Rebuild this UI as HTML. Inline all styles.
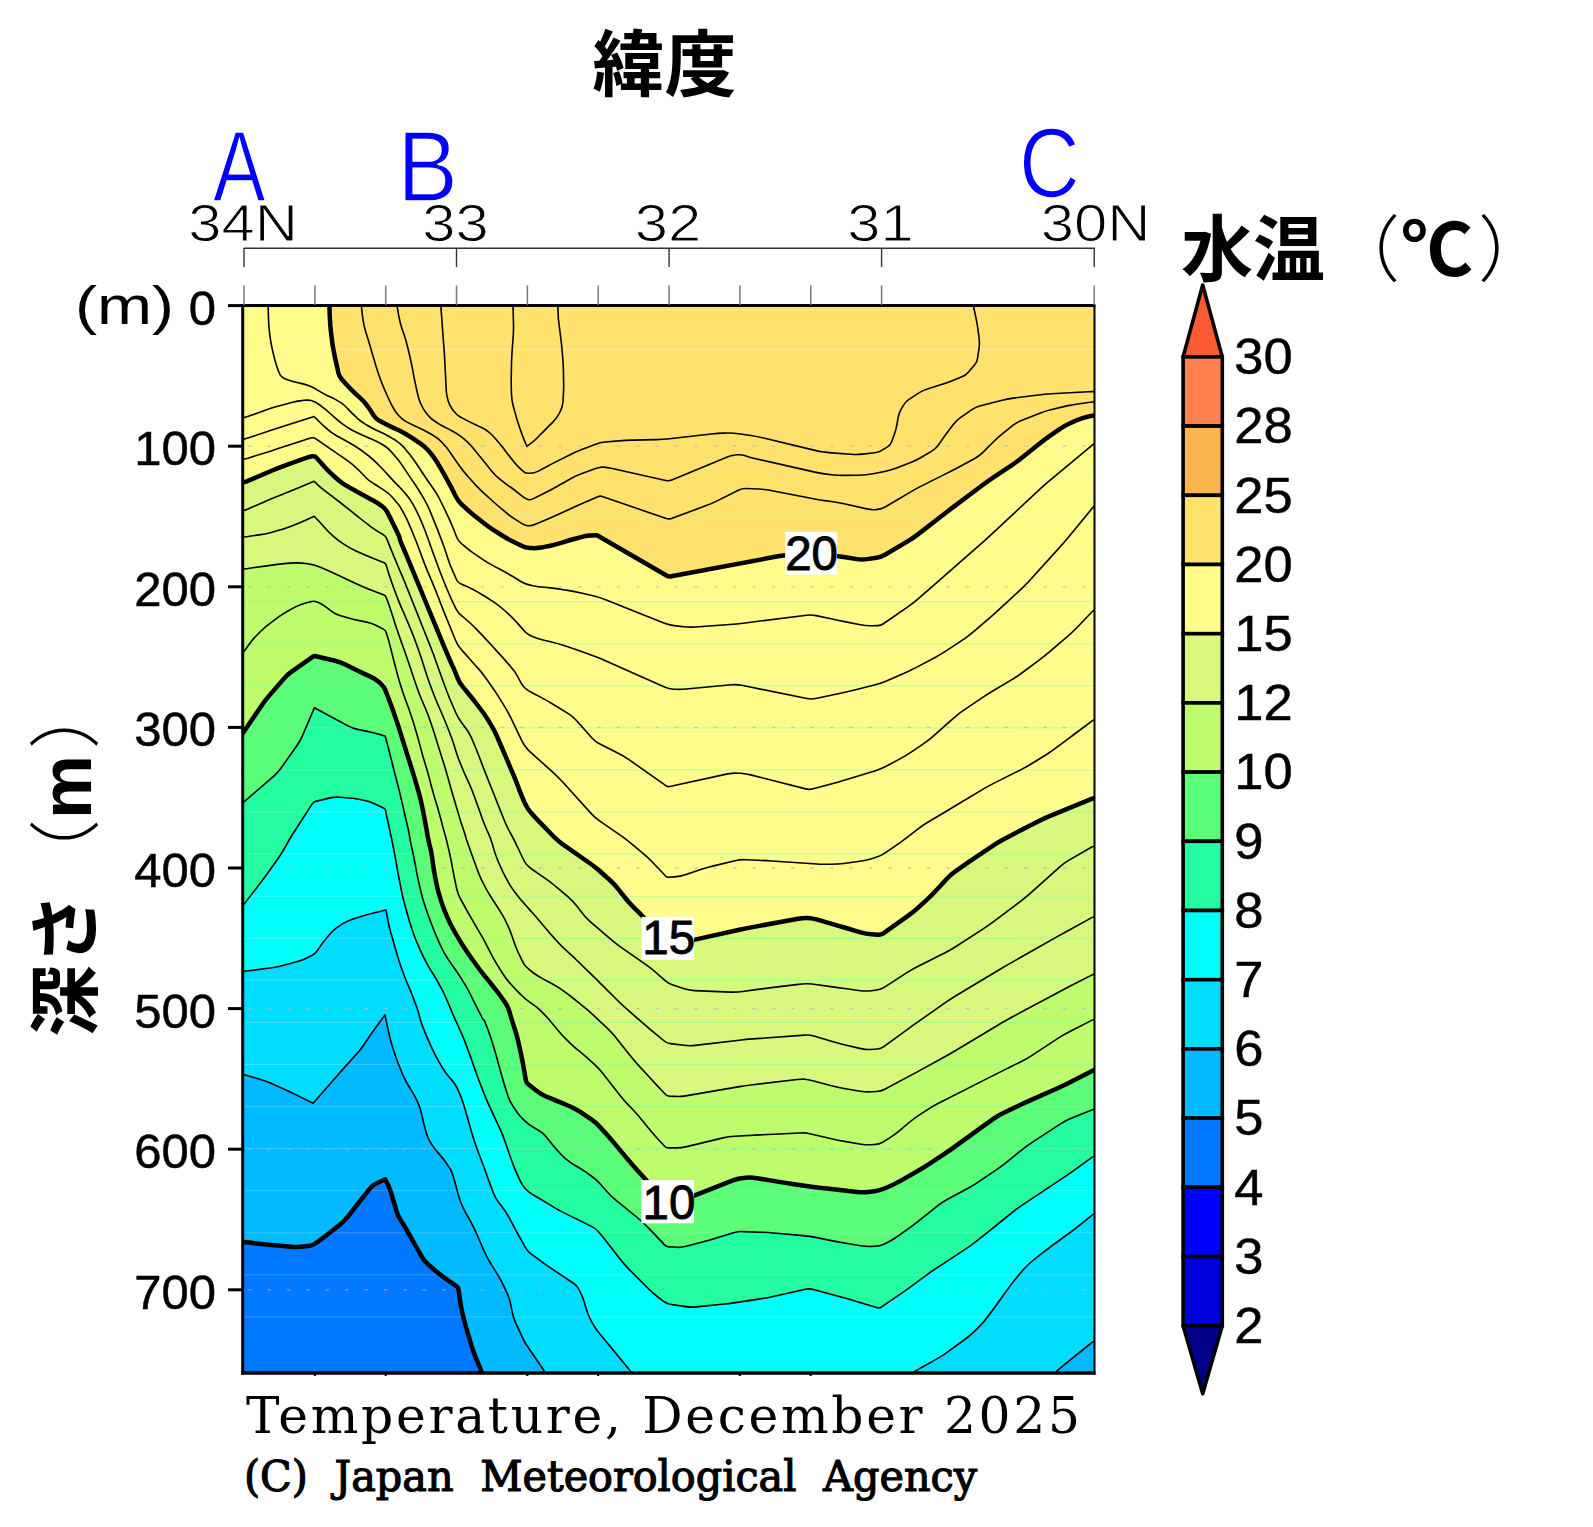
<!DOCTYPE html>
<html lang="ja"><head><meta charset="utf-8"><title>Temperature, December 2025</title>
<style>html,body{margin:0;padding:0;background:#fff}body{width:1593px;height:1527px;overflow:hidden}svg{display:block}.g{font-family:"Liberation Sans","DejaVu Sans",sans-serif;fill:#000}.j{font-family:"Liberation Sans","Noto Sans CJK JP",sans-serif;font-weight:bold;fill:#000}.s{font-family:"DejaVu Serif","Liberation Serif",serif;fill:#000}.m{font-family:"Liberation Mono","DejaVu Sans Mono",monospace;fill:#000}.b{font-family:"Liberation Sans","Noto Sans CJK JP",sans-serif;fill:#0000FF}</style></head><body>
<svg width="1593" height="1527" viewBox="0 0 1593 1527">
<rect width="1593" height="1527" fill="#fff"/>
<defs><clipPath id="pc"><rect x="244.0" y="305.5" width="850.5" height="1067.5"/></clipPath></defs>
<g clip-path="url(#pc)">
<rect x="244.0" y="305.5" width="850.5" height="1067.5" fill="#FFE16E"/>
<path fill="#FFFC8C" d="M329.4,299.5L329.4,303.0Q329.4,305.6 329.6,312.4L329.9,318.6Q330.1,325.1 330.9,331.5L332.1,341.3Q332.9,347.7 334.3,354.0L335.2,358.5Q336.7,365.3 337.8,370.0L338.4,372.9Q339.2,376.6 341.8,379.4L346.2,384.3Q350.5,389.1 355.2,393.4L360.1,397.9Q364.3,401.7 366.9,405.4L368.0,406.8Q370.6,410.5 372.7,413.9L373.6,415.4Q375.6,418.6 378.9,420.4L385.1,423.8Q390.7,426.8 394.6,428.4L396.1,429.0Q400.0,430.6 405.2,433.7L407.3,435.0Q412.6,438.1 417.9,441.8L420.6,443.7Q425.1,446.9 428.8,451.1L430.2,452.7Q433.9,456.9 436.9,461.9L438.2,464.2Q441.4,469.5 444.0,474.2L445.1,476.1Q447.7,480.8 449.8,484.7L450.6,486.1Q452.7,490.0 454.8,494.5L455.8,496.4Q457.8,500.7 461.2,504.0L464.4,506.9Q469.1,511.4 474.2,515.5L483.0,522.6Q487.9,526.5 493.2,529.9L501.3,535.0Q506.7,538.4 512.4,541.3L521.5,545.8Q525.5,547.8 529.7,548.1L531.4,548.1Q535.6,548.4 541.1,547.5L544.6,546.9Q550.7,545.9 556.7,544.1L562.9,542.3Q569.5,540.3 576.1,538.5L580.2,537.4Q585.8,535.9 590.0,535.6L591.7,535.5Q595.9,535.2 596.4,535.3L596.7,535.3Q597.2,535.4 601.3,537.8L666.5,575.5Q668.8,576.8 671.4,576.3L778.0,556.3Q783.7,555.2 789.4,555.3L831.6,556.0Q837.7,556.1 843.8,557.0L857.0,559.1Q862.1,559.9 867.2,559.1L876.4,557.8Q881.0,557.1 885.0,554.8L907.6,541.4Q913.0,538.2 917.9,534.4L945.2,513.2Q950.7,509.0 956.2,504.9L983.0,484.8Q988.3,480.8 993.8,477.1L1011.2,465.6Q1016.6,462.0 1021.6,458.0L1039.7,443.5Q1044.8,439.4 1050.2,435.6L1058.9,429.6Q1063.7,426.2 1069.0,423.8L1077.4,420.0Q1082.5,417.7 1087.6,416.7L1089.6,416.3Q1094.7,415.3 1097.1,415.3L1100.5,415.3L1100.5,1379.0L238.0,1379.0L238.0,299.5Z"/>
<path fill="#D7F87D" d="M238.0,482.7L241.4,482.7Q243.8,482.7 247.9,480.9L271.6,470.8Q277.7,468.2 284.0,465.9L305.8,458.0Q310.3,456.3 312.4,456.3L313.6,456.3Q315.3,456.3 316.4,457.6L323.8,466.0Q327.9,470.7 332.6,474.9L336.0,478.0Q340.4,482.0 344.1,484.3L345.5,485.2Q349.2,487.5 355.0,490.6L359.4,493.0Q365.5,496.3 370.8,499.2L372.8,500.3Q378.1,503.2 381.2,505.6L382.5,506.5Q385.6,508.9 387.5,512.6L389.3,516.1Q391.9,521.4 395.0,527.6L397.1,531.9Q399.4,536.5 399.7,538.1L399.7,538.7Q400.0,540.3 402.2,545.3L404.8,551.4Q407.5,557.8 410.1,564.2L413.6,572.7Q416.3,579.2 419.0,585.7L422.4,594.0Q425.1,600.5 427.8,607.0L431.2,615.4Q433.9,621.9 436.6,628.4L440.1,636.8Q442.7,643.2 445.4,649.6L447.5,654.5Q450.2,660.8 452.4,665.8L453.3,667.6Q455.5,672.6 457.1,676.8L457.7,678.4Q459.3,682.6 462.5,686.4L467.5,692.5Q471.8,697.7 476.0,703.1L480.5,709.0Q484.4,714.0 487.7,719.4L491.2,725.1Q494.4,730.3 496.8,735.9L499.2,741.5Q502.0,747.9 504.7,754.3L506.8,759.1Q509.5,765.5 512.1,771.8L513.2,774.2Q515.8,780.5 518.2,786.8L519.6,790.6Q522.0,796.8 524.1,801.5L525.0,803.4Q527.1,808.1 530.2,811.8L531.5,813.2Q534.6,816.9 539.2,821.6L553.6,836.5Q557.7,840.7 562.5,844.1L590.2,863.5Q595.3,867.1 600.0,871.3L609.8,880.0Q614.2,884.0 617.9,888.7L625.3,898.0Q629.2,902.9 633.7,907.3L637.6,911.2Q642.4,916.0 647.0,920.9L668.2,943.7Q668.8,944.3 669.6,944.2L688.5,940.8Q695.1,939.6 701.7,938.1L739.4,929.8Q746.0,928.3 752.7,927.1L796.7,919.0Q802.5,917.9 806.2,917.9L807.6,917.9Q811.3,917.9 816.4,919.4L831.0,923.6Q837.7,925.5 844.4,927.5L860.5,932.3Q865.9,933.9 871.5,934.3L878.2,934.7Q881.0,934.9 883.3,933.3L907.9,915.9Q913.0,912.3 917.6,908.1L927.0,899.6Q931.8,895.3 936.1,890.6L946.9,878.8Q950.7,874.6 955.3,871.4L963.9,865.3Q969.5,861.4 975.2,857.6L992.4,846.1Q997.7,842.6 1003.3,839.6L1019.9,830.7Q1026.0,827.5 1032.1,824.4L1039.0,820.9Q1044.8,818.0 1050.8,815.6L1090.4,799.4Q1094.7,797.7 1097.1,797.7L1100.5,797.7L1100.5,1379.0L238.0,1379.0Z"/>
<path fill="#BEFC6E" d="M238.0,569.1L241.4,569.1Q243.8,569.1 249.8,568.2L258.2,567.0Q265.1,566.0 272.0,565.1L277.4,564.4Q283.9,563.5 290.4,563.1L294.6,562.9Q300.3,562.6 306.0,563.5L308.6,563.9Q314.1,564.7 319.2,566.8L322.1,568.0Q327.9,570.4 334.0,573.2L340.4,576.2Q346.7,579.2 353.0,582.2L359.6,585.2Q365.5,588.0 371.6,590.3L384.0,595.1Q385.6,595.7 386.2,597.4L388.2,602.7Q390.1,607.8 392.0,614.1L392.8,616.6Q394.7,622.9 396.9,629.2L397.7,631.6Q399.9,637.9 402.2,644.4L403.7,648.5Q406.0,655.0 408.2,661.5L410.6,668.5Q412.8,675.1 415.0,681.7L417.1,687.8Q419.1,693.9 421.7,699.8L425.3,708.1Q427.9,714.0 429.9,720.1L432.0,726.3Q434.2,732.8 436.2,739.3L438.3,746.2Q440.4,752.9 442.5,759.6L444.7,766.5Q446.7,773.0 448.5,779.6L451.1,789.0Q453.0,795.6 455.0,802.2L457.4,810.4Q459.3,816.9 461.4,823.4L463.4,829.5Q465.5,835.8 466.0,837.6L466.1,838.2Q466.6,840.0 468.8,846.1L470.5,851.0Q472.9,857.6 475.3,864.2L477.1,869.3Q479.2,875.2 482.0,880.8L483.9,884.5Q486.7,890.2 490.1,895.6L491.8,898.2Q495.5,904.0 499.2,909.8L501.0,912.6Q504.3,917.8 506.8,923.4L508.0,925.9Q510.6,931.7 512.6,937.7L513.6,940.7Q515.6,946.7 518.2,952.5L519.3,954.7Q521.9,960.5 523.5,963.1L524.0,964.2Q525.6,966.8 529.3,969.7L532.2,972.0Q536.9,975.6 542.1,978.4L550.3,982.7Q555.8,985.6 560.9,989.2L563.0,990.7Q568.3,994.4 573.5,998.5L580.8,1004.3Q585.9,1008.3 590.7,1012.7L605.9,1026.8Q610.4,1030.9 614.2,1035.6L628.9,1054.0Q633.0,1059.2 637.4,1064.1L647.2,1074.8Q651.8,1079.9 656.5,1084.9L665.3,1094.2Q666.9,1095.9 669.3,1096.1L674.6,1096.4Q680.1,1096.8 685.6,1095.9L739.4,1086.6Q746.0,1085.5 752.6,1084.7L797.1,1079.5Q802.5,1078.9 805.4,1079.3L806.5,1079.5Q809.4,1079.9 815.5,1081.5L831.5,1085.8Q837.7,1087.4 844.0,1088.5L860.4,1091.2Q865.9,1092.1 871.5,1091.8L876.7,1091.5Q881.0,1091.2 884.8,1089.2L906.9,1077.4Q913.0,1074.2 919.1,1070.9L944.8,1056.8Q950.7,1053.5 956.5,1050.0L1001.5,1023.0Q1007.2,1019.6 1013.1,1016.5L1057.6,992.8Q1063.7,989.5 1069.8,986.3L1091.1,975.4Q1094.7,973.5 1097.1,973.5L1100.5,973.5L1100.5,1379.0L238.0,1379.0Z"/>
<path fill="#5AFC78" d="M238.0,733.3L241.8,733.3Q242.8,733.3 243.3,732.5L261.0,706.4Q264.5,701.2 268.6,696.4L283.5,679.1Q287.1,674.9 291.6,671.7L312.7,656.8Q314.1,655.8 315.8,656.2L335.0,660.7Q340.4,662.0 345.3,664.5L352.8,668.3Q358.8,671.3 364.9,674.1L370.5,676.6Q375.2,678.8 378.9,682.0L380.9,683.8Q383.9,686.4 385.3,690.1L387.7,696.3Q390.2,702.7 392.5,709.1L394.2,713.9Q396.5,720.3 398.5,726.7L400.7,733.7Q402.8,740.4 404.9,747.1L407.0,753.8Q409.1,760.4 411.2,767.1L413.3,773.9Q415.3,780.5 417.2,787.1L418.6,791.9Q420.4,798.1 421.7,804.4L424.1,816.5Q425.4,823.2 426.6,829.9L427.2,833.6Q428.3,840.0 429.6,845.3L430.2,847.3Q431.5,852.6 432.3,858.8L433.1,864.9Q434.0,871.4 435.3,877.9L436.5,883.9Q437.8,890.2 439.7,896.3L440.9,900.4Q442.8,906.5 445.3,912.3L447.8,918.3Q450.3,924.1 453.4,929.5L457.1,936.0Q460.4,941.7 464.0,947.2L466.7,951.2Q470.4,956.8 474.4,962.3L476.5,965.2Q480.4,970.6 484.6,975.8L486.3,977.9Q490.5,983.1 494.7,988.4L496.5,990.6Q500.5,995.7 503.7,1000.4L505.3,1002.8Q508.1,1007.0 509.5,1011.9L510.2,1014.5Q511.8,1020.0 513.9,1026.3L514.8,1029.0Q516.8,1035.1 518.2,1041.3L520.4,1051.2Q521.9,1057.7 523.1,1064.3L525.9,1080.4Q526.3,1082.8 528.3,1084.3L536.5,1090.8Q540.7,1094.1 545.6,1096.2L552.0,1098.9Q558.3,1101.6 563.5,1103.7L565.5,1104.5Q570.8,1106.6 574.7,1108.7L576.1,1109.6Q580.0,1111.7 585.4,1115.3L591.4,1119.3Q595.9,1122.3 599.5,1126.4L606.6,1134.3Q611.1,1139.4 615.5,1144.6L625.7,1156.9Q630.1,1162.1 634.6,1167.2L640.7,1174.0Q645.3,1179.2 650.0,1184.4L669.0,1205.8L688.3,1198.0Q694.7,1195.4 701.2,1192.9L733.5,1180.2Q738.3,1178.3 743.4,1177.9L746.1,1177.7Q751.6,1177.3 757.0,1178.2L779.1,1181.9Q785.8,1183.0 792.6,1184.0L813.3,1186.9Q820.0,1187.8 823.6,1188.2L824.9,1188.3Q828.5,1188.7 835.4,1189.5L857.1,1191.9Q862.7,1192.5 868.3,1191.9L874.6,1191.2Q879.7,1190.6 884.4,1188.5L889.1,1186.5Q894.9,1184.0 900.4,1180.9L917.7,1171.0Q923.4,1167.8 928.9,1164.2L946.3,1152.6Q951.9,1148.9 957.3,1144.9L974.9,1132.1Q980.4,1128.0 986.0,1124.1L994.5,1118.1Q999.4,1114.7 1004.8,1112.2L1021.6,1104.3Q1027.8,1101.4 1034.1,1098.6L1057.6,1088.2Q1063.7,1085.5 1069.6,1082.5L1091.1,1071.4Q1094.7,1069.5 1097.1,1069.5L1100.5,1069.5L1100.5,1379.0L238.0,1379.0Z"/>
<path fill="#23FCA0" d="M238.0,802.9L240.8,802.9Q242.8,802.9 244.8,801.2L273.5,776.4Q277.7,772.8 280.9,768.3L297.0,745.5Q300.3,740.8 302.5,735.6L314.4,707.8L348.0,725.9Q352.6,728.4 357.7,729.4L365.0,730.9Q371.4,732.2 377.2,733.8L384.7,735.9Q385.2,736.0 385.3,736.5L387.4,744.4Q389.0,750.4 390.7,757.1L392.3,763.8Q394.0,770.5 395.8,777.2L397.2,782.7Q399.0,789.3 400.5,795.9L402.4,803.9Q404.0,810.7 405.5,817.5L407.7,826.9Q409.1,833.3 409.5,836.1L409.7,837.2Q410.1,840.0 411.5,846.5L412.5,850.9Q413.9,857.6 415.2,864.3L416.4,871.1Q417.7,877.7 419.2,884.3L421.2,892.7Q422.7,899.0 424.7,905.1L426.9,911.5Q429.0,917.8 431.5,924.0L434.0,930.5Q436.5,936.7 439.3,942.8L441.5,947.5Q444.0,953.0 447.2,957.7L448.4,959.6Q451.6,964.3 455.3,969.5L456.7,971.5Q460.4,976.8 463.5,982.1L464.8,984.1Q467.9,989.4 470.8,995.2L472.3,998.3Q475.4,1004.5 478.5,1010.7L481.8,1017.1Q483.0,1019.5 483.5,1019.7L483.7,1019.8Q484.2,1020.0 484.9,1021.9L488.2,1030.2Q490.5,1036.3 492.3,1042.5L494.9,1051.1Q496.8,1057.7 498.6,1064.3L501.2,1073.8Q503.0,1080.3 505.0,1086.8L507.7,1095.3Q509.3,1100.4 512.2,1104.9L515.1,1109.4Q518.1,1114.2 522.1,1118.2L524.3,1120.4Q528.1,1124.2 532.8,1126.9L539.2,1130.7Q543.2,1133.0 546.1,1136.7L548.3,1139.6Q552.0,1144.3 556.2,1149.0L557.9,1151.0Q562.0,1155.6 565.7,1158.8L567.1,1159.9Q570.8,1163.1 574.7,1165.2L576.1,1166.0Q580.0,1168.1 585.2,1171.7L591.3,1176.0Q595.9,1179.2 599.6,1183.3L607.1,1191.8Q611.1,1196.3 615.8,1200.1L636.6,1217.0Q641.5,1221.0 646.0,1225.5L648.1,1227.6Q652.9,1232.4 657.5,1237.4L664.6,1244.9Q666.2,1246.6 668.6,1246.8L676.4,1247.3Q681.4,1247.6 686.2,1246.3L703.3,1241.8Q709.9,1240.0 716.4,1238.0L733.5,1232.8Q738.3,1231.4 743.3,1231.6L760.1,1232.2Q766.8,1232.4 773.4,1233.0L803.2,1235.6Q809.5,1236.2 815.7,1237.4L831.3,1240.6Q838.0,1241.9 844.7,1243.0L860.8,1245.7Q866.5,1246.6 872.0,1246.4L875.1,1246.3Q879.7,1246.1 883.9,1244.2L886.3,1243.1Q891.1,1240.9 895.9,1237.5L908.5,1228.6Q913.9,1224.8 919.1,1220.7L937.8,1205.7Q942.4,1202.0 947.6,1199.2L965.3,1189.8Q970.9,1186.8 976.2,1183.3L994.0,1171.4Q999.4,1167.8 1004.5,1163.8L1022.8,1149.1Q1027.8,1145.1 1033.2,1141.6L1060.9,1123.6Q1065.8,1120.4 1071.2,1118.2L1090.0,1110.7Q1094.3,1109.0 1096.9,1109.0L1100.5,1109.0L1100.5,1379.0L238.0,1379.0Z"/>
<line x1="244.0" y1="349.3" x2="1094.5" y2="349.3" stroke="#ffffd0" stroke-width="1" opacity="0.45"/>
<line x1="244.0" y1="475.5" x2="1094.5" y2="475.5" stroke="#c8ffb4" stroke-width="1" opacity="0.45"/>
<line x1="244.0" y1="517.6" x2="1094.5" y2="517.6" stroke="#c8ffb4" stroke-width="1" opacity="0.45"/>
<line x1="244.0" y1="559.6" x2="1094.5" y2="559.6" stroke="#c8ffb4" stroke-width="1" opacity="0.45"/>
<line x1="244.0" y1="601.7" x2="1094.5" y2="601.7" stroke="#78ffaa" stroke-width="1" opacity="0.5"/>
<line x1="244.0" y1="643.8" x2="1094.5" y2="643.8" stroke="#78ffaa" stroke-width="1" opacity="0.5"/>
<line x1="244.0" y1="685.9" x2="1094.5" y2="685.9" stroke="#78ffaa" stroke-width="1" opacity="0.5"/>
<line x1="244.0" y1="727.9" x2="1094.5" y2="727.9" stroke="#78ffaa" stroke-width="1" opacity="0.5"/>
<line x1="244.0" y1="770.0" x2="1094.5" y2="770.0" stroke="#78ffaa" stroke-width="1" opacity="0.5"/>
<line x1="244.0" y1="812.1" x2="1094.5" y2="812.1" stroke="#78ffaa" stroke-width="1" opacity="0.5"/>
<line x1="244.0" y1="854.1" x2="1094.5" y2="854.1" stroke="#78ffaa" stroke-width="1" opacity="0.5"/>
<line x1="244.0" y1="896.2" x2="1094.5" y2="896.2" stroke="#78ffaa" stroke-width="1" opacity="0.5"/>
<line x1="244.0" y1="938.3" x2="1094.5" y2="938.3" stroke="#78ffaa" stroke-width="1" opacity="0.5"/>
<line x1="244.0" y1="980.3" x2="1094.5" y2="980.3" stroke="#78ffaa" stroke-width="1" opacity="0.5"/>
<line x1="244.0" y1="1022.4" x2="1094.5" y2="1022.4" stroke="#78ffaa" stroke-width="1" opacity="0.5"/>
<line x1="244.0" y1="1064.5" x2="1094.5" y2="1064.5" stroke="#78ffaa" stroke-width="1" opacity="0.5"/>
<line x1="244.0" y1="1106.6" x2="1094.5" y2="1106.6" stroke="#78ffaa" stroke-width="1" opacity="0.5"/>
<line x1="244.0" y1="1148.6" x2="1094.5" y2="1148.6" stroke="#78ffaa" stroke-width="1" opacity="0.5"/>
<line x1="244.0" y1="1190.7" x2="1094.5" y2="1190.7" stroke="#78ffaa" stroke-width="1" opacity="0.5"/>
<line x1="244.0" y1="1232.8" x2="1094.5" y2="1232.8" stroke="#78ffaa" stroke-width="1" opacity="0.5"/>
<line x1="244.0" y1="1274.8" x2="1094.5" y2="1274.8" stroke="#78ffaa" stroke-width="1" opacity="0.5"/>
<line x1="244.0" y1="1316.9" x2="1094.5" y2="1316.9" stroke="#78ffaa" stroke-width="1" opacity="0.5"/>
<path fill="#00FFFA" d="M238.0,905.7L241.4,905.7Q242.8,905.7 243.7,904.6L258.5,885.6Q262.6,880.3 266.5,874.8L277.8,859.0Q281.4,853.9 284.4,848.4L285.9,845.8Q289.0,840.0 292.5,834.5L312.2,803.9Q313.4,802.0 315.6,801.4L329.2,798.1Q334.2,796.9 339.3,797.2L346.4,797.7Q352.6,798.1 358.7,799.3L363.5,800.2Q368.9,801.2 373.9,803.5L384.0,808.3Q385.2,808.8 385.5,810.1L386.6,815.7Q387.7,820.7 389.2,827.5L390.0,831.6Q391.5,838.3 391.7,839.0L391.7,839.3Q391.9,840.0 393.2,846.6L393.8,849.6Q395.1,856.3 396.3,863.1L397.6,871.0Q398.8,877.7 400.2,884.4L401.3,890.0Q402.6,896.5 404.3,902.9L405.9,908.8Q407.6,915.3 409.6,921.7L412.0,929.3Q413.9,935.4 416.4,941.3L418.8,946.9Q421.4,953.0 424.0,958.2L425.1,960.2Q427.7,965.5 431.1,970.9L433.0,973.8Q436.5,979.4 439.6,985.2L441.0,987.6Q444.0,993.2 446.5,999.1L447.7,1001.9Q450.3,1008.2 452.4,1013.2L453.2,1015.0Q455.3,1020.0 458.2,1026.1L460.1,1030.4Q462.9,1036.3 465.2,1042.4L468.0,1050.0Q470.4,1056.4 472.7,1062.9L475.7,1071.4Q477.9,1077.8 480.4,1084.1L484.3,1094.3Q486.7,1100.4 489.5,1106.4L492.5,1112.9Q495.5,1119.2 498.4,1125.5L500.3,1129.7Q503.0,1135.5 505.0,1141.5L506.0,1144.3Q508.1,1150.6 510.4,1157.1L512.2,1162.0Q514.3,1168.1 517.0,1173.9L519.6,1179.6Q521.9,1184.5 524.5,1187.7L525.5,1188.8Q528.1,1192.0 532.3,1194.4L537.3,1197.3Q543.2,1200.8 549.1,1204.4L552.8,1206.6Q558.3,1210.0 564.1,1212.9L591.9,1226.6Q595.9,1228.6 598.7,1232.0L601.4,1235.2Q605.4,1240.0 609.5,1245.4L620.6,1259.8Q624.4,1264.7 628.8,1269.1L648.5,1288.8Q652.9,1293.2 657.8,1297.0L663.2,1301.2Q666.2,1303.6 670.0,1304.2L685.5,1306.6Q690.9,1307.4 696.3,1306.9L722.1,1304.3Q728.8,1303.6 735.4,1302.6L760.3,1298.9Q766.8,1297.9 773.2,1296.5L805.6,1289.3Q809.5,1288.4 813.4,1289.5L840.9,1297.0Q847.5,1298.8 854.1,1300.7L878.3,1307.9Q879.7,1308.3 880.9,1307.4L898.8,1295.2Q904.4,1291.3 909.9,1287.3L927.5,1274.3Q932.9,1270.4 938.5,1266.8L965.5,1249.2Q970.9,1245.7 975.9,1241.7L984.4,1234.9Q989.9,1230.5 995.4,1226.1L1013.3,1211.7Q1018.3,1207.7 1023.7,1204.1L1041.0,1192.6Q1046.8,1188.7 1052.6,1184.8L1069.8,1173.4Q1075.3,1169.7 1080.6,1165.7L1091.9,1157.3Q1094.3,1155.5 1096.9,1155.5L1100.5,1155.5L1100.5,1379.0L238.0,1379.0Z"/>
<path fill="#00DCFC" d="M238.0,971.6L240.8,971.6Q242.8,971.6 248.9,970.8L271.6,967.7Q277.7,966.9 283.7,965.3L296.5,961.8Q302.1,960.3 307.3,957.7L311.9,955.4Q315.3,953.7 317.4,950.5L319.7,947.1Q322.9,942.4 327.0,937.6L330.8,933.1Q334.2,929.2 338.6,926.4L342.8,923.7Q347.3,920.8 352.4,919.2L361.9,916.2Q368.1,914.2 374.5,912.7L386.0,910.0L387.7,919.1Q388.8,925.4 390.5,931.6L391.9,936.3Q393.8,943.0 395.7,949.7L397.0,954.2Q398.8,960.5 401.0,966.7L402.9,971.9Q405.1,978.1 407.7,984.2L410.0,989.6Q412.6,995.7 414.8,1001.9L416.9,1007.6Q418.9,1013.3 419.4,1016.1L419.7,1017.2Q420.2,1020.0 422.3,1025.5L424.1,1030.1Q426.5,1036.3 429.3,1042.3L432.5,1049.4Q435.2,1055.2 438.4,1060.8L442.4,1067.7Q445.3,1072.7 449.1,1077.0L451.9,1080.1Q455.3,1084.0 457.4,1088.7L459.0,1092.2Q461.6,1097.8 463.4,1103.7L464.6,1107.7Q466.6,1114.2 468.4,1120.8L470.0,1126.6Q471.7,1133.0 473.8,1139.3L474.6,1141.8Q476.7,1148.1 479.1,1154.3L480.5,1158.0Q483.0,1164.4 485.3,1170.8L486.9,1175.6Q489.2,1182.0 491.7,1188.4L493.6,1193.5Q495.5,1198.3 498.7,1202.4L502.1,1206.8Q505.8,1211.5 508.6,1216.7L515.8,1230.1Q519.1,1236.2 522.5,1242.2L525.5,1247.6Q527.6,1251.4 531.1,1253.9L543.0,1262.6Q548.5,1266.6 554.1,1270.3L573.8,1283.5Q577.0,1285.6 578.7,1289.0L580.3,1292.2Q582.7,1296.9 584.4,1302.6L586.8,1310.5Q588.4,1315.9 591.2,1320.8L593.0,1324.1Q595.9,1329.2 599.7,1333.7L610.5,1346.7Q614.9,1352.0 619.3,1357.4L629.2,1369.5Q632.0,1372.9 632.7,1375.5L633.7,1379.0L238.0,1379.0Z"/>
<path fill="#00DCFC" d="M909.0,1379.0L910.7,1375.5Q912.0,1372.9 914.9,1371.3L936.9,1358.9Q942.4,1355.8 947.4,1352.1L966.0,1338.5Q970.9,1334.9 975.2,1330.6L979.9,1325.9Q984.2,1321.6 987.7,1316.7L995.3,1306.4Q999.4,1300.7 1003.5,1295.0L1010.7,1285.1Q1014.5,1279.9 1018.7,1275.1L1023.9,1269.1Q1027.8,1264.7 1032.4,1261.0L1041.5,1253.7Q1046.8,1249.5 1052.2,1245.5L1069.9,1232.6Q1075.3,1228.6 1080.6,1224.4L1092.1,1215.2Q1094.3,1213.4 1096.9,1213.4L1100.5,1213.4L1100.5,1379.0Z"/>
<path fill="#00B9FF" d="M238.0,1074.2L240.8,1074.2Q242.8,1074.2 247.8,1075.7L262.3,1080.0Q268.2,1081.8 273.8,1084.4L286.5,1090.2Q292.7,1093.1 298.8,1096.1L313.1,1103.3L337.2,1075.7Q341.7,1070.5 346.3,1065.4L356.4,1054.3Q360.5,1049.8 363.9,1044.7L368.1,1038.4Q371.8,1032.8 375.8,1027.4L385.0,1014.9L388.7,1032.5Q390.0,1038.8 391.9,1044.9L394.4,1052.7Q396.3,1058.9 398.8,1064.9L402.8,1074.8Q405.1,1080.3 408.3,1085.4L412.0,1091.4Q415.2,1096.6 417.3,1101.3L418.1,1103.2Q420.2,1107.9 421.5,1113.6L422.4,1117.6Q423.9,1124.2 425.5,1130.0L426.3,1133.0Q427.7,1138.0 430.3,1142.2L431.4,1143.9Q434.0,1148.1 437.7,1152.3L439.1,1153.9Q442.8,1158.1 446.4,1163.3L448.7,1166.6Q451.6,1170.7 453.0,1175.5L453.7,1178.0Q455.3,1183.2 456.9,1189.5L457.6,1192.5Q459.1,1198.3 461.2,1203.2L462.0,1205.1Q464.1,1210.0 467.2,1215.5L470.4,1221.1Q473.5,1226.7 476.1,1232.5L484.3,1251.5Q486.8,1257.1 490.0,1262.3L498.8,1276.5Q502.0,1281.8 504.5,1287.5L507.3,1293.7Q509.6,1298.8 510.7,1304.3L512.3,1312.4Q513.4,1317.8 515.7,1322.8L522.3,1337.1Q524.8,1342.5 527.6,1346.5L528.6,1348.0Q531.4,1352.0 535.3,1357.7L542.9,1369.0Q545.6,1372.9 546.2,1375.5L547.0,1379.0L238.0,1379.0Z"/>
<path fill="#00B9FF" d="M1052.3,1379.0L1053.5,1375.5Q1054.4,1372.9 1057.2,1370.6L1069.9,1360.2Q1075.3,1355.8 1080.7,1351.5L1092.1,1342.4Q1094.3,1340.6 1096.9,1340.6L1100.5,1340.6L1100.5,1379.0Z"/>
<path fill="#0078FF" d="M238.0,1241.9L240.8,1241.9Q242.8,1241.9 249.1,1242.6L261.7,1244.0Q268.5,1244.7 275.3,1245.3L291.2,1246.7Q297.0,1247.2 302.8,1246.6L308.3,1246.1Q312.1,1245.7 315.2,1243.5L320.0,1240.1Q325.4,1236.2 330.6,1232.0L340.1,1224.5Q344.4,1221.0 347.8,1216.6L353.5,1209.4Q357.7,1203.9 362.0,1198.5L370.3,1188.1Q372.9,1184.9 376.7,1183.2L385.2,1179.2L388.0,1184.7Q390.0,1188.7 391.6,1194.3L396.2,1210.2Q397.6,1215.3 400.4,1219.8L403.6,1224.8Q407.1,1230.5 410.3,1236.3L413.2,1241.5Q416.6,1247.6 419.8,1253.2L421.7,1256.6Q424.2,1260.9 427.9,1264.2L434.6,1270.0Q439.4,1274.2 444.6,1277.9L456.7,1286.4Q458.3,1287.5 458.6,1289.4L460.3,1302.0Q461.2,1308.3 462.7,1314.5L464.3,1320.8Q465.9,1327.3 467.9,1333.7L471.6,1345.9Q473.5,1352.0 475.9,1357.9L480.0,1367.9Q482.1,1372.9 482.5,1375.5L483.0,1379.0L238.0,1379.0Z"/>
<clipPath id="c8"><path d="M238.0,905.7L241.4,905.7Q242.8,905.7 243.7,904.6L258.5,885.6Q262.6,880.3 266.5,874.8L277.8,859.0Q281.4,853.9 284.4,848.4L285.9,845.8Q289.0,840.0 292.5,834.5L312.2,803.9Q313.4,802.0 315.6,801.4L329.2,798.1Q334.2,796.9 339.3,797.2L346.4,797.7Q352.6,798.1 358.7,799.3L363.5,800.2Q368.9,801.2 373.9,803.5L384.0,808.3Q385.2,808.8 385.5,810.1L386.6,815.7Q387.7,820.7 389.2,827.5L390.0,831.6Q391.5,838.3 391.7,839.0L391.7,839.3Q391.9,840.0 393.2,846.6L393.8,849.6Q395.1,856.3 396.3,863.1L397.6,871.0Q398.8,877.7 400.2,884.4L401.3,890.0Q402.6,896.5 404.3,902.9L405.9,908.8Q407.6,915.3 409.6,921.7L412.0,929.3Q413.9,935.4 416.4,941.3L418.8,946.9Q421.4,953.0 424.0,958.2L425.1,960.2Q427.7,965.5 431.1,970.9L433.0,973.8Q436.5,979.4 439.6,985.2L441.0,987.6Q444.0,993.2 446.5,999.1L447.7,1001.9Q450.3,1008.2 452.4,1013.2L453.2,1015.0Q455.3,1020.0 458.2,1026.1L460.1,1030.4Q462.9,1036.3 465.2,1042.4L468.0,1050.0Q470.4,1056.4 472.7,1062.9L475.7,1071.4Q477.9,1077.8 480.4,1084.1L484.3,1094.3Q486.7,1100.4 489.5,1106.4L492.5,1112.9Q495.5,1119.2 498.4,1125.5L500.3,1129.7Q503.0,1135.5 505.0,1141.5L506.0,1144.3Q508.1,1150.6 510.4,1157.1L512.2,1162.0Q514.3,1168.1 517.0,1173.9L519.6,1179.6Q521.9,1184.5 524.5,1187.7L525.5,1188.8Q528.1,1192.0 532.3,1194.4L537.3,1197.3Q543.2,1200.8 549.1,1204.4L552.8,1206.6Q558.3,1210.0 564.1,1212.9L591.9,1226.6Q595.9,1228.6 598.7,1232.0L601.4,1235.2Q605.4,1240.0 609.5,1245.4L620.6,1259.8Q624.4,1264.7 628.8,1269.1L648.5,1288.8Q652.9,1293.2 657.8,1297.0L663.2,1301.2Q666.2,1303.6 670.0,1304.2L685.5,1306.6Q690.9,1307.4 696.3,1306.9L722.1,1304.3Q728.8,1303.6 735.4,1302.6L760.3,1298.9Q766.8,1297.9 773.2,1296.5L805.6,1289.3Q809.5,1288.4 813.4,1289.5L840.9,1297.0Q847.5,1298.8 854.1,1300.7L878.3,1307.9Q879.7,1308.3 880.9,1307.4L898.8,1295.2Q904.4,1291.3 909.9,1287.3L927.5,1274.3Q932.9,1270.4 938.5,1266.8L965.5,1249.2Q970.9,1245.7 975.9,1241.7L984.4,1234.9Q989.9,1230.5 995.4,1226.1L1013.3,1211.7Q1018.3,1207.7 1023.7,1204.1L1041.0,1192.6Q1046.8,1188.7 1052.6,1184.8L1069.8,1173.4Q1075.3,1169.7 1080.6,1165.7L1091.9,1157.3Q1094.3,1155.5 1096.9,1155.5L1100.5,1155.5L1100.5,1379.0L238.0,1379.0Z"/></clipPath>
<g clip-path="url(#c8)">
<line x1="244.0" y1="812.1" x2="1094.5" y2="812.1" stroke="#fff" stroke-width="1" opacity="0.22"/>
<line x1="244.0" y1="854.1" x2="1094.5" y2="854.1" stroke="#fff" stroke-width="1" opacity="0.22"/>
<line x1="244.0" y1="896.2" x2="1094.5" y2="896.2" stroke="#fff" stroke-width="1" opacity="0.22"/>
<line x1="244.0" y1="938.3" x2="1094.5" y2="938.3" stroke="#fff" stroke-width="1" opacity="0.22"/>
<line x1="244.0" y1="980.3" x2="1094.5" y2="980.3" stroke="#fff" stroke-width="1" opacity="0.22"/>
<line x1="244.0" y1="1022.4" x2="1094.5" y2="1022.4" stroke="#fff" stroke-width="1" opacity="0.22"/>
<line x1="244.0" y1="1064.5" x2="1094.5" y2="1064.5" stroke="#fff" stroke-width="1" opacity="0.22"/>
<line x1="244.0" y1="1106.6" x2="1094.5" y2="1106.6" stroke="#fff" stroke-width="1" opacity="0.22"/>
<line x1="244.0" y1="1148.6" x2="1094.5" y2="1148.6" stroke="#fff" stroke-width="1" opacity="0.22"/>
<line x1="244.0" y1="1190.7" x2="1094.5" y2="1190.7" stroke="#fff" stroke-width="1" opacity="0.22"/>
<line x1="244.0" y1="1232.8" x2="1094.5" y2="1232.8" stroke="#fff" stroke-width="1" opacity="0.22"/>
<line x1="244.0" y1="1274.8" x2="1094.5" y2="1274.8" stroke="#fff" stroke-width="1" opacity="0.22"/>
<line x1="244.0" y1="1316.9" x2="1094.5" y2="1316.9" stroke="#fff" stroke-width="1" opacity="0.22"/>
</g>
<line x1="248.0" y1="446.2" x2="1094.5" y2="446.2" stroke="#b4b4c0" stroke-width="1.3" stroke-dasharray="3.6 15.8" opacity="0.7"/>
<line x1="248.0" y1="586.8" x2="1094.5" y2="586.8" stroke="#b4b4c0" stroke-width="1.3" stroke-dasharray="3.6 15.8" opacity="0.7"/>
<line x1="248.0" y1="727.4" x2="1094.5" y2="727.4" stroke="#b4b4c0" stroke-width="1.3" stroke-dasharray="3.6 15.8" opacity="0.7"/>
<line x1="248.0" y1="868.0" x2="1094.5" y2="868.0" stroke="#b4b4c0" stroke-width="1.3" stroke-dasharray="3.6 15.8" opacity="0.7"/>
<line x1="248.0" y1="1008.6" x2="1094.5" y2="1008.6" stroke="#b4b4c0" stroke-width="1.3" stroke-dasharray="3.6 15.8" opacity="0.7"/>
<line x1="248.0" y1="1149.2" x2="1094.5" y2="1149.2" stroke="#b4b4c0" stroke-width="1.3" stroke-dasharray="3.6 15.8" opacity="0.7"/>
<line x1="248.0" y1="1289.8" x2="1094.5" y2="1289.8" stroke="#b4b4c0" stroke-width="1.3" stroke-dasharray="3.6 15.8" opacity="0.7"/>
<path fill="none" stroke="#000" stroke-width="1.6" stroke-linejoin="round" d="M513.0,299.5L513.0,303.0Q513.0,305.6 513.2,312.5L513.5,325.0Q513.6,331.4 513.1,337.8L512.2,349.8Q511.7,356.5 511.5,363.2L511.3,374.9Q511.1,381.6 511.3,388.3L511.5,394.8Q511.7,400.4 513.2,405.8L515.1,412.9Q516.8,419.3 518.9,425.5L520.2,429.3Q522.4,435.6 524.2,440.1L526.8,446.3L530.5,443.7Q533.1,441.9 537.3,437.7L539.7,435.3Q544.4,430.6 549.3,425.6L553.3,421.6Q556.9,418.0 559.2,413.5L560.6,410.7Q562.6,406.7 562.9,402.2L563.4,394.3Q563.8,387.9 563.6,381.4L563.4,369.4Q563.2,362.8 562.6,356.2L561.9,348.1Q561.3,341.4 560.4,334.8L559.1,325.0Q558.2,318.8 558.1,313.3L558.0,311.1Q557.9,305.6 557.9,303.0L557.9,299.5"/>
<path fill="none" stroke="#000" stroke-width="1.6" stroke-linejoin="round" d="M440.8,299.5L440.8,303.0Q440.8,305.6 441.3,312.1L442.2,324.4Q442.7,331.4 443.2,338.4L444.1,349.7Q444.6,356.5 444.9,363.3L445.5,374.6Q445.8,381.6 446.1,387.4L446.2,389.9Q446.5,395.4 447.8,399.6L448.3,401.3Q449.6,405.5 452.5,409.4L454.0,411.4Q456.5,414.9 460.3,417.0L463.8,418.9Q469.1,421.8 475.1,424.5L480.5,427.1Q485.4,429.3 488.5,431.9L489.8,433.0Q492.9,435.6 496.0,439.3L497.2,440.7Q500.4,444.4 503.6,448.6L504.8,450.2Q508.0,454.4 511.7,459.1L513.2,461.1Q516.8,465.7 520.5,468.9L523.6,471.6Q525.5,473.3 528.1,473.3L530.6,473.3Q534.3,473.3 537.8,471.4L544.7,467.7Q550.7,464.5 556.8,461.4L570.1,454.8Q575.8,451.9 581.8,449.6L595.1,444.4Q600.0,442.5 605.2,442.0L618.9,440.9Q625.5,440.3 632.1,440.1L656.6,439.6Q663.1,439.4 669.5,438.7L711.2,434.0Q717.7,433.3 724.0,433.1L726.9,433.0Q732.8,432.8 738.6,433.7L750.9,435.5Q757.3,436.5 763.6,438.0L814.0,450.1Q820.0,451.6 823.4,452.0L824.8,452.1Q828.2,452.5 835.0,453.1L850.7,454.3Q856.5,454.8 862.3,454.1L874.9,452.7Q879.1,452.2 882.6,449.9L887.9,446.6Q890.4,445.0 891.4,442.2L894.0,435.4Q896.0,429.9 897.0,424.1L898.1,417.7Q898.9,413.0 901.3,408.9L903.4,405.3Q905.5,401.7 909.0,399.4L918.1,393.3Q922.4,390.4 927.4,388.9L940.7,384.8Q946.9,382.9 952.9,380.5L961.9,376.8Q965.7,375.3 968.3,372.2L974.7,364.8Q977.0,362.1 977.5,358.6L979.0,348.5Q979.8,343.3 979.1,338.1L977.9,329.0Q977.0,322.6 975.6,316.2L974.5,311.1Q973.3,305.6 973.3,303.0L973.3,299.5"/>
<path fill="none" stroke="#000" stroke-width="1.6" stroke-linejoin="round" d="M396.9,299.5L396.9,303.0Q396.9,305.6 398.0,311.4L398.9,316.6Q400.0,322.6 401.9,328.4L404.3,335.3Q406.3,341.4 407.8,347.7L409.8,356.2Q411.3,362.8 412.6,369.4L413.8,376.2Q415.1,382.9 416.6,389.5L417.5,393.5Q418.8,399.2 420.6,403.4L421.4,405.0Q423.2,409.2 426.6,413.4L428.3,415.5Q431.4,419.3 435.6,421.8L438.6,423.7Q443.9,426.8 449.2,429.4L451.3,430.5Q456.5,433.1 461.1,436.7L463.3,438.4Q467.8,441.9 470.9,445.6L472.2,447.0Q475.3,450.7 479.5,455.9L481.2,457.9Q485.4,463.2 489.6,468.5L492.0,471.5Q495.4,475.8 499.8,479.2L502.0,480.9Q506.7,484.6 509.3,486.4L510.4,487.0Q513.0,488.8 518.0,492.8L522.1,496.1Q525.5,498.8 527.6,499.3L528.5,499.6Q530.6,500.1 532.9,498.9L544.7,493.0Q550.7,490.0 556.5,486.7L570.6,478.7Q575.8,475.8 581.4,473.8L595.6,468.6Q600.0,467.0 602.8,467.1L603.8,467.1Q606.6,467.2 612.3,468.5L665.7,480.5Q668.8,481.2 671.8,480.0L726.1,457.4Q730.9,455.4 735.3,455.0L736.9,454.8Q741.3,454.4 745.5,455.8L747.3,456.4Q751.6,457.8 757.8,459.2L813.8,471.9Q820.0,473.3 826.3,474.1L831.6,474.7Q837.7,475.5 843.8,475.4L860.0,475.2Q865.9,475.1 871.7,474.0L884.6,471.5Q890.4,470.4 895.9,468.3L911.3,462.3Q916.8,460.1 921.9,457.0L931.8,451.1Q935.6,448.8 938.2,445.2L941.1,441.1Q945.0,435.6 949.1,430.1L953.3,424.5Q956.3,420.5 960.4,417.6L971.2,410.1Q975.1,407.3 979.7,406.1L1001.2,400.5Q1007.2,398.9 1013.3,398.1L1038.3,395.0Q1044.8,394.2 1051.4,393.8L1088.1,391.7Q1094.7,391.3 1097.1,391.3L1100.5,391.3"/>
<path fill="none" stroke="#000" stroke-width="1.6" stroke-linejoin="round" d="M361.2,299.5L361.2,303.0Q361.2,305.6 362.0,311.8L362.9,319.2Q363.7,325.1 365.4,330.8L368.6,341.1Q370.6,347.7 372.5,354.3L373.8,358.8Q375.6,365.3 377.7,371.6L378.6,374.3Q380.6,380.4 383.2,386.4L385.5,391.8Q388.1,397.9 390.7,403.2L392.0,405.6Q394.4,410.5 397.6,414.2L398.9,415.7Q402.0,419.3 405.4,421.1L406.6,421.9Q410.0,423.7 416.0,426.4L419.3,428.0Q425.1,430.6 430.4,433.8L433.0,435.3Q437.7,438.1 441.4,441.8L442.8,443.2Q446.5,446.9 449.6,451.6L450.9,453.5Q454.0,458.2 457.7,463.4L459.2,465.5Q462.8,470.7 467.0,475.4L468.6,477.3Q472.8,482.0 476.0,485.4L477.2,486.6Q480.4,490.0 485.2,494.4L489.2,498.0Q494.2,502.6 499.4,507.0L505.8,512.4Q510.5,516.4 515.7,519.6L522.5,523.9Q525.5,525.8 528.1,525.8L529.2,525.8Q531.8,525.8 535.9,524.0L544.4,520.4Q550.7,517.7 557.0,514.9L569.5,509.3Q575.8,506.4 582.2,503.6L597.8,496.7Q600.0,495.7 602.3,496.5L666.2,518.5Q668.8,519.4 671.4,518.4L706.2,505.6Q712.1,503.4 717.7,500.6L738.8,490.0Q742.2,488.3 746.1,488.5L758.7,489.0Q764.8,489.3 770.8,490.5L813.5,498.7Q820.0,500.0 826.6,500.9L831.3,501.5Q837.7,502.4 844.0,503.8L866.7,508.9Q871.6,510.0 875.9,509.6L877.6,509.4Q881.9,509.0 885.6,506.8L911.2,491.6Q916.8,488.3 922.7,485.4L944.6,474.4Q950.7,471.4 956.7,468.2L974.3,458.7Q978.9,456.3 982.6,452.6L993.2,442.0Q997.7,437.5 1002.6,433.6L1012.5,425.6Q1016.6,422.4 1021.4,420.5L1039.2,413.4Q1044.8,411.1 1050.7,409.7L1066.9,405.9Q1073.1,404.5 1079.4,403.7L1088.5,402.5Q1094.7,401.7 1097.1,401.7L1100.5,401.7"/>
<path fill="none" stroke="#000" stroke-width="1.6" stroke-linejoin="round" d="M268.2,299.5L268.2,303.0Q268.2,305.6 268.3,312.5L268.5,318.7Q268.6,325.1 269.4,331.4L270.0,336.4Q270.8,342.7 272.2,348.9L273.1,352.7Q274.5,359.0 276.3,364.8L277.3,367.7Q278.9,372.8 280.2,374.9L280.8,375.7Q282.1,377.8 284.9,378.8L288.2,380.0Q292.7,381.6 298.0,382.7L300.0,383.1Q305.3,384.1 309.0,385.7L310.4,386.3Q314.1,387.9 317.8,390.3L319.2,391.1Q322.9,393.5 328.1,395.9L330.1,396.8Q335.4,399.2 339.1,401.6L340.5,402.4Q344.2,404.8 347.3,408.2L348.6,409.6Q351.7,413.0 355.4,416.4L356.8,417.8Q360.5,421.2 365.2,424.1L367.1,425.2Q371.8,428.1 377.5,430.7L382.5,433.0Q388.1,435.6 393.1,438.8L395.6,440.3Q400.0,443.1 403.5,447.0L405.8,449.7Q410.0,454.4 413.6,459.6L415.1,461.7Q418.8,467.0 422.4,472.7L424.1,475.3Q427.6,480.8 431.3,485.8L432.9,487.9Q436.4,492.6 439.0,497.9L440.8,501.5Q443.9,507.6 446.8,513.8L448.7,517.9Q451.5,523.9 453.9,530.0L456.4,536.5Q457.8,540.3 460.8,543.0L464.5,546.2Q469.1,550.3 474.2,553.7L482.6,559.4Q487.9,562.9 493.5,565.9L500.8,569.8Q506.7,572.9 512.4,576.3L521.3,581.7Q525.5,584.2 530.3,585.1L532.8,585.7Q538.1,586.7 544.5,587.3L550.3,587.9Q556.9,588.6 563.4,589.7L569.3,590.6Q575.8,591.7 582.2,593.2L594.1,596.0Q600.0,597.4 605.6,599.7L663.8,623.0Q668.8,625.0 674.1,625.6L683.7,626.7Q689.5,627.4 695.3,627.0L729.9,624.5Q736.6,624.0 743.2,623.2L806.4,615.2Q811.3,614.6 816.1,615.6L831.0,618.8Q837.7,620.3 844.5,621.6L860.4,624.8Q865.9,625.9 871.5,625.8L877.6,625.6Q881.0,625.5 883.8,623.5L907.8,606.9Q913.0,603.3 917.8,599.1L935.9,583.4Q941.2,578.8 946.4,574.2L983.2,541.8Q988.3,537.3 993.3,532.6L1039.9,489.1Q1044.8,484.6 1049.9,480.3L1092.6,444.8Q1094.7,443.1 1097.1,443.1L1100.5,443.1"/>
<path fill="none" stroke="#000" stroke-width="1.6" stroke-linejoin="round" d="M238.0,418.0L241.4,418.0Q243.8,418.0 248.4,416.3L265.3,410.2Q271.4,408.0 277.7,406.3L290.7,402.7Q296.5,401.1 301.5,400.6L303.8,400.3Q308.4,399.8 311.3,400.6L312.4,400.9Q315.3,401.7 319.1,404.5L321.2,406.1Q325.4,409.2 330.2,413.5L333.1,416.2Q337.9,420.5 342.1,423.7L343.8,424.9Q348.0,428.1 353.2,430.7L355.2,431.7Q360.5,434.3 366.6,436.9L372.5,439.5Q378.1,441.9 382.3,444.5L383.9,445.5Q388.1,448.1 391.5,452.0L393.2,454.0Q396.9,458.2 398.2,459.8L398.7,460.4Q400.0,462.0 403.1,466.7L404.4,468.6Q407.5,473.3 411.4,479.1L415.1,484.5Q418.8,490.0 422.1,495.7L424.5,499.8Q427.6,505.1 429.9,510.8L432.6,517.4Q435.2,523.9 437.8,530.4L440.2,536.6Q442.7,542.8 444.8,549.1L448.2,559.4Q450.2,565.4 452.8,571.2L456.7,580.0Q457.8,582.3 460.1,583.4L467.0,586.5Q472.8,589.2 478.3,592.4L482.3,594.7Q487.9,598.0 493.1,601.7L495.3,603.2Q500.4,606.8 505.1,611.0L508.3,613.9Q513.0,618.1 516.7,622.3L518.1,623.9Q521.8,628.1 524.2,630.7L525.0,631.8Q527.4,634.4 531.3,636.0L533.6,637.0Q538.1,638.8 544.0,640.2L550.6,641.7Q556.9,643.2 563.0,645.2L569.3,647.3Q575.8,649.5 582.2,651.8L593.8,656.1Q600.0,658.3 606.0,661.0L664.5,687.1Q668.8,689.0 673.5,689.3L675.4,689.3Q680.1,689.6 686.2,689.0L731.4,684.8Q736.6,684.3 741.7,685.3L806.9,698.5Q811.3,699.4 815.7,698.5L840.5,693.2Q847.1,691.8 853.7,690.2L875.3,684.8Q881.0,683.4 886.4,681.0L907.0,671.9Q913.0,669.2 918.8,666.1L935.6,657.2Q941.2,654.2 946.5,650.7L964.3,638.8Q969.5,635.3 974.2,631.2L992.6,615.3Q997.7,610.8 1002.7,606.2L1021.3,588.9Q1026.0,584.5 1030.3,579.7L1059.2,547.9Q1063.7,542.9 1068.0,537.7L1093.7,506.5Q1094.7,505.3 1096.3,505.3L1100.5,505.3"/>
<path fill="none" stroke="#000" stroke-width="1.6" stroke-linejoin="round" d="M238.0,439.4L241.4,439.4Q243.8,439.4 248.6,437.8L271.1,430.3Q277.7,428.1 284.3,426.0L314.1,416.5L317.8,420.3Q320.4,423.0 325.1,427.2L327.6,429.4Q331.7,433.1 336.6,435.7L342.1,438.7Q348.0,441.9 353.2,445.0L355.2,446.2Q360.5,449.4 365.4,453.3L368.2,455.5Q373.1,459.4 377.3,463.6L378.9,465.3Q383.1,469.5 387.6,474.5L390.0,477.1Q394.4,482.0 396.8,484.3L397.6,485.2Q400.0,487.5 404.2,492.2L406.3,494.6Q410.0,498.8 412.6,503.7L415.8,509.6Q418.8,515.2 421.2,521.1L423.9,527.8Q426.4,534.0 428.6,540.3L431.6,548.8Q433.9,555.3 436.3,561.8L439.0,569.0Q441.4,575.4 444.0,581.7L447.7,590.7Q450.2,596.8 453.1,602.8L455.9,608.6Q457.8,612.5 461.2,615.3L464.4,618.0Q469.1,621.9 473.7,626.5L476.8,629.6Q481.6,634.4 486.1,639.4L489.5,643.0Q494.2,648.2 498.9,653.4L502.1,656.9Q506.7,662.0 510.5,666.5L512.2,668.5Q515.8,672.6 518.2,677.5L519.8,680.7Q522.0,685.1 524.1,687.2L525.0,688.0Q527.1,690.1 531.7,692.5L542.4,698.1Q548.2,701.2 553.8,704.7L568.3,713.6Q572.7,716.3 576.2,720.2L592.2,738.2Q595.3,741.7 599.5,743.8L618.2,753.2Q623.6,755.9 628.6,759.4L666.2,785.8Q667.8,786.9 669.7,786.5L727.7,773.9Q732.8,772.8 738.0,773.2L740.5,773.3Q746.0,773.7 751.7,775.1L805.7,788.9Q809.4,789.8 813.1,788.8L831.1,784.0Q837.7,782.2 844.2,780.2L875.5,770.7Q881.0,769.0 886.1,766.3L899.9,758.9Q905.5,755.9 910.8,752.3L923.0,744.2Q928.1,740.8 932.7,736.7L939.8,730.3Q945.0,725.7 950.2,721.1L955.4,716.6Q960.1,712.5 965.3,709.1L982.7,697.4Q988.3,693.7 994.0,690.3L1011.1,680.1Q1016.6,676.8 1021.8,673.0L1039.5,659.9Q1044.8,656.0 1049.7,651.7L1068.2,635.8Q1073.1,631.6 1077.5,627.0L1093.3,610.5Q1094.7,609.0 1096.7,609.0L1100.5,609.0"/>
<path fill="none" stroke="#000" stroke-width="1.6" stroke-linejoin="round" d="M238.0,459.4L241.4,459.4Q243.8,459.4 248.7,457.9L271.1,450.9Q277.7,448.8 284.3,446.6L304.6,440.0Q310.3,438.1 311.9,437.8L312.5,437.8Q314.1,437.5 315.9,438.8L320.7,442.2Q325.4,445.6 331.1,449.4L334.7,451.8Q340.4,455.7 345.7,459.4L348.2,461.1Q353.0,464.5 357.2,468.7L358.8,470.3Q363.0,474.5 365.1,476.8L366.0,477.7Q368.1,480.0 372.3,482.6L373.9,483.7Q378.1,486.3 382.8,489.4L385.0,490.9Q389.4,493.8 392.5,497.5L393.8,498.9Q396.9,502.6 398.2,504.2L398.7,504.8Q400.0,506.4 402.8,511.5L404.5,514.6Q407.5,520.2 409.9,526.1L413.7,535.3Q416.3,541.5 418.6,547.8L422.8,559.1Q425.1,565.4 427.7,571.6L432.5,582.9Q435.2,589.2 437.6,595.5L441.4,605.4Q443.9,611.8 446.5,618.1L450.0,626.7Q452.7,633.2 454.8,638.5L456.0,641.2Q457.8,645.7 461.1,649.3L464.5,653.1Q469.1,658.3 469.7,659.0L470.0,659.3Q470.6,660.0 475.2,665.2L477.7,667.9Q481.9,672.6 485.6,677.7L490.5,684.7Q494.4,690.1 497.9,695.7L503.6,704.8Q507.0,710.2 509.9,715.9L512.8,721.8Q515.8,727.8 518.4,733.6L519.6,736.2Q522.0,741.6 524.1,744.8L525.0,746.0Q527.1,749.1 531.2,752.8L553.0,772.3Q557.7,776.6 562.0,781.3L591.5,813.9Q595.3,818.0 599.9,821.2L620.2,835.2Q625.5,838.8 630.4,842.9L643.3,853.7Q648.1,857.7 652.5,862.3L665.8,876.3Q666.9,877.4 668.5,877.3L674.7,876.9Q680.1,876.5 685.3,874.8L702.2,869.1Q708.3,867.1 714.6,865.6L735.1,860.7Q740.3,859.5 745.6,859.7L758.0,860.2Q764.8,860.5 771.6,861.0L813.4,863.8Q820.0,864.3 826.6,864.3L831.5,864.3Q837.7,864.3 843.8,863.5L860.0,861.3Q865.9,860.5 871.6,858.7L876.1,857.3Q881.0,855.8 885.2,852.9L900.1,842.6Q905.5,838.8 910.7,834.7L917.5,829.3Q922.4,825.5 927.7,822.3L944.7,812.2Q950.7,808.6 956.7,805.0L982.7,789.4Q988.3,786.0 994.1,783.1L1020.2,770.1Q1026.0,767.2 1031.5,763.8L1045.0,755.5Q1050.5,752.1 1055.6,748.2L1067.5,739.3Q1073.1,735.1 1078.7,731.0L1092.2,720.9Q1094.7,719.1 1097.1,719.1L1100.5,719.1"/>
<path fill="none" stroke="#000" stroke-width="1.6" stroke-linejoin="round" d="M238.0,510.8L241.4,510.8Q243.8,510.8 247.9,509.0L265.2,501.5Q271.4,498.8 277.7,496.3L290.1,491.3Q296.5,488.8 302.8,486.1L314.1,481.3L317.8,484.9Q320.4,487.5 325.3,491.2L329.9,494.7Q335.4,498.8 340.8,503.0L347.6,508.3Q353.0,512.6 358.2,516.8L360.3,518.5Q365.5,522.7 369.7,525.9L371.4,527.1Q375.6,530.2 379.8,532.6L383.1,534.5Q385.6,535.9 386.7,538.6L389.8,546.4Q392.4,552.8 394.6,558.2L395.5,560.2Q397.7,565.6 399.9,570.7L400.7,572.6Q402.9,577.7 405.5,584.0L406.4,586.4Q409.0,592.7 411.5,599.0L412.5,601.5Q415.0,607.8 417.5,614.1L418.5,616.6Q421.0,622.9 423.5,629.2L424.5,631.6Q427.0,637.9 429.6,644.4L431.3,648.7Q433.8,655.0 436.0,661.4L439.4,671.1Q441.7,677.6 444.1,684.0L446.9,691.5Q449.2,697.7 451.9,703.8L455.8,712.7Q458.0,717.8 461.3,722.2L466.0,728.4Q469.3,732.8 471.5,737.9L474.2,744.2Q476.8,750.4 479.2,756.7L482.0,764.1Q484.4,770.5 487.0,776.9L489.3,782.8Q491.9,789.3 494.5,795.8L496.8,801.6Q499.4,808.1 502.0,814.6L504.7,821.2Q507.0,827.0 510.0,832.4L511.2,834.5Q514.3,840.0 516.9,845.8L518.0,848.0Q520.6,853.8 523.0,858.5L524.5,861.5Q526.3,865.1 529.6,867.4L532.4,869.5Q536.9,872.6 542.2,876.3L544.2,877.7Q549.5,881.4 554.6,885.5L556.8,887.3Q562.0,891.5 566.7,895.7L568.9,897.6Q573.3,901.5 576.8,906.1L582.4,913.3Q585.9,917.9 590.2,921.7L609.4,938.2Q614.2,942.4 619.4,946.1L646.6,965.2Q651.8,968.8 656.5,973.0L665.5,980.9Q668.8,983.8 673.0,985.1L684.4,988.8Q689.5,990.4 694.8,990.6L730.7,992.1Q736.6,992.3 742.5,991.5L757.9,989.4Q764.8,988.5 771.7,987.6L796.3,984.6Q802.5,983.8 806.2,983.8L807.6,983.8Q811.3,983.8 817.4,984.7L830.8,986.6Q837.7,987.6 844.6,988.5L860.5,990.7Q865.9,991.4 871.3,990.7L876.8,990.0Q881.0,989.5 884.6,987.2L907.7,972.2Q913.0,968.8 918.7,966.0L945.1,952.7Q950.7,949.9 956.0,946.5L982.8,929.1Q988.3,925.5 993.6,921.6L1020.8,901.1Q1026.0,897.2 1030.8,892.9L1059.5,867.1Q1063.7,863.3 1068.6,860.4L1091.4,847.3Q1094.7,845.4 1097.1,845.4L1100.5,845.4"/>
<path fill="none" stroke="#000" stroke-width="1.6" stroke-linejoin="round" d="M238.0,537.1L241.4,537.1Q243.8,537.1 249.8,536.2L258.9,534.9Q265.1,534.0 271.2,532.4L277.8,530.6Q283.9,529.0 289.8,526.7L294.2,525.0Q300.3,522.7 306.1,520.0L314.1,516.2L318.5,520.7Q321.6,523.9 324.2,527.1L325.3,528.3Q327.9,531.5 332.1,535.2L333.7,536.6Q337.9,540.3 343.0,543.6L345.3,545.1Q350.5,548.4 356.1,551.0L359.4,552.5Q365.5,555.3 371.7,557.8L384.2,562.8Q385.6,563.4 386.1,564.9L388.2,571.7Q390.1,577.7 392.3,584.0L393.2,586.4Q395.4,592.7 397.9,599.0L398.9,601.6Q401.4,607.8 404.2,613.9L405.4,616.8Q408.2,622.9 410.7,629.2L411.7,631.6Q414.2,637.9 416.5,644.3L418.0,648.6Q420.3,655.0 422.4,661.5L425.9,672.4Q427.9,678.8 430.2,685.1L433.1,692.7Q435.4,698.9 438.1,705.0L441.5,712.8Q444.2,719.0 446.7,725.3L449.3,731.7Q451.7,737.8 453.7,744.0L456.1,751.8Q458.0,757.9 460.5,763.8L461.7,766.7Q464.3,773.0 467.1,779.2L469.1,783.4Q471.8,789.3 474.0,795.4L475.7,800.3Q478.1,806.9 480.5,813.5L482.2,818.4Q484.4,824.5 487.0,830.3L488.2,832.8Q490.7,838.3 492.4,844.1L493.8,849.1Q495.5,855.1 497.9,860.8L500.5,866.7Q503.0,872.6 506.1,878.2L507.7,881.1Q510.6,886.5 513.8,890.7L515.0,892.3Q518.1,896.5 521.2,900.2L522.5,901.6Q525.6,905.3 530.2,910.4L532.4,912.8Q536.9,917.8 541.2,923.0L545.2,927.7Q549.5,932.9 554.0,937.9L557.7,942.0Q562.0,946.7 566.7,950.9L568.6,952.6Q573.3,956.8 578.1,961.5L590.3,973.4Q595.3,978.2 600.2,983.1L618.9,1001.8Q623.6,1006.4 628.6,1010.7L646.7,1026.4Q651.8,1030.9 657.1,1035.2L664.2,1041.0Q666.9,1043.2 670.4,1043.6L684.0,1045.3Q689.5,1046.0 695.0,1045.4L739.3,1040.2Q746.0,1039.4 752.7,1038.9L804.7,1035.1Q809.4,1034.7 813.9,1036.1L831.4,1041.3Q837.7,1043.2 844.1,1044.7L860.9,1048.6Q865.9,1049.8 871.1,1049.5L877.5,1049.0Q881.0,1048.8 883.8,1046.7L907.5,1029.4Q913.0,1025.3 918.6,1021.4L945.3,1002.7Q950.7,998.9 956.3,995.5L1001.3,968.5Q1007.2,965.0 1013.2,961.6L1057.7,936.4Q1063.7,933.0 1069.8,929.7L1091.3,917.9Q1094.7,916.0 1097.1,916.0L1100.5,916.0"/>
<path fill="none" stroke="#000" stroke-width="1.6" stroke-linejoin="round" d="M238.0,569.1L241.4,569.1Q243.8,569.1 249.8,568.2L258.2,567.0Q265.1,566.0 272.0,565.1L277.4,564.4Q283.9,563.5 290.4,563.1L294.6,562.9Q300.3,562.6 306.0,563.5L308.6,563.9Q314.1,564.7 319.2,566.8L322.1,568.0Q327.9,570.4 334.0,573.2L340.4,576.2Q346.7,579.2 353.0,582.2L359.6,585.2Q365.5,588.0 371.6,590.3L384.0,595.1Q385.6,595.7 386.2,597.4L388.2,602.7Q390.1,607.8 392.0,614.1L392.8,616.6Q394.7,622.9 396.9,629.2L397.7,631.6Q399.9,637.9 402.2,644.4L403.7,648.5Q406.0,655.0 408.2,661.5L410.6,668.5Q412.8,675.1 415.0,681.7L417.1,687.8Q419.1,693.9 421.7,699.8L425.3,708.1Q427.9,714.0 429.9,720.1L432.0,726.3Q434.2,732.8 436.2,739.3L438.3,746.2Q440.4,752.9 442.5,759.6L444.7,766.5Q446.7,773.0 448.5,779.6L451.1,789.0Q453.0,795.6 455.0,802.2L457.4,810.4Q459.3,816.9 461.4,823.4L463.4,829.5Q465.5,835.8 466.0,837.6L466.1,838.2Q466.6,840.0 468.8,846.1L470.5,851.0Q472.9,857.6 475.3,864.2L477.1,869.3Q479.2,875.2 482.0,880.8L483.9,884.5Q486.7,890.2 490.1,895.6L491.8,898.2Q495.5,904.0 499.2,909.8L501.0,912.6Q504.3,917.8 506.8,923.4L508.0,925.9Q510.6,931.7 512.6,937.7L513.6,940.7Q515.6,946.7 518.2,952.5L519.3,954.7Q521.9,960.5 523.5,963.1L524.0,964.2Q525.6,966.8 529.3,969.7L532.2,972.0Q536.9,975.6 542.1,978.4L550.3,982.7Q555.8,985.6 560.9,989.2L563.0,990.7Q568.3,994.4 573.5,998.5L580.8,1004.3Q585.9,1008.3 590.7,1012.7L605.9,1026.8Q610.4,1030.9 614.2,1035.6L628.9,1054.0Q633.0,1059.2 637.4,1064.1L647.2,1074.8Q651.8,1079.9 656.5,1084.9L665.3,1094.2Q666.9,1095.9 669.3,1096.1L674.6,1096.4Q680.1,1096.8 685.6,1095.9L739.4,1086.6Q746.0,1085.5 752.6,1084.7L797.1,1079.5Q802.5,1078.9 805.4,1079.3L806.5,1079.5Q809.4,1079.9 815.5,1081.5L831.5,1085.8Q837.7,1087.4 844.0,1088.5L860.4,1091.2Q865.9,1092.1 871.5,1091.8L876.7,1091.5Q881.0,1091.2 884.8,1089.2L906.9,1077.4Q913.0,1074.2 919.1,1070.9L944.8,1056.8Q950.7,1053.5 956.5,1050.0L1001.5,1023.0Q1007.2,1019.6 1013.1,1016.5L1057.6,992.8Q1063.7,989.5 1069.8,986.3L1091.1,975.4Q1094.7,973.5 1097.1,973.5L1100.5,973.5"/>
<path fill="none" stroke="#000" stroke-width="1.6" stroke-linejoin="round" d="M238.0,652.0L242.7,652.0Q243.8,652.0 244.4,651.1L249.2,644.2Q252.6,639.4 256.8,635.2L260.8,631.2Q265.1,626.9 270.0,623.3L279.0,616.7Q283.9,613.1 289.3,610.2L295.5,606.9Q300.3,604.3 305.6,602.9L311.0,601.6Q314.1,600.8 317.1,602.0L318.5,602.5Q321.6,603.7 325.8,606.9L331.7,611.4Q335.4,614.3 339.9,615.6L346.8,617.6Q353.0,619.4 359.3,620.6L366.7,622.1Q371.8,623.1 376.4,625.5L383.7,629.4Q385.6,630.4 386.2,632.4L387.3,636.1Q388.6,640.2 390.2,646.4L390.8,648.8Q392.4,655.0 394.1,661.8L396.2,669.8Q397.8,676.3 399.8,682.7L400.9,686.3Q402.8,692.6 405.1,698.8L408.0,706.5Q410.3,712.7 412.3,719.1L414.6,726.4Q416.6,732.8 418.3,739.3L419.9,745.1Q421.6,751.7 423.5,758.2L426.0,766.5Q427.9,773.0 429.7,779.6L431.1,785.2Q432.9,791.8 434.8,798.4L437.3,806.6Q439.2,813.2 441.0,819.8L442.4,825.4Q444.2,832.0 445.2,835.4L445.5,836.6Q446.5,840.0 448.0,846.5L448.8,849.7Q450.3,856.3 451.6,862.9L452.8,869.6Q454.1,876.4 455.5,883.1L456.7,888.9Q457.8,894.0 460.3,898.5L462.2,902.0Q465.4,907.8 468.8,913.8L472.0,919.4Q475.4,925.4 478.9,931.4L480.9,934.7Q484.2,940.4 486.8,945.7L487.9,947.7Q490.5,953.0 493.1,957.7L494.2,959.6Q496.8,964.3 500.4,969.9L502.3,973.0Q505.5,978.1 509.5,982.6L511.4,984.7Q515.6,989.4 519.8,993.6L521.5,995.3Q525.6,999.4 530.3,1002.6L532.2,1003.8Q536.9,1007.0 540.6,1010.7L542.0,1012.1Q545.7,1015.8 547.3,1017.6L547.9,1018.2Q549.5,1020.0 553.8,1025.2L557.9,1030.2Q562.0,1035.1 566.5,1039.6L570.4,1043.4Q574.6,1047.6 576.9,1049.2L577.7,1049.8Q580.0,1051.4 584.7,1055.6L594.7,1064.6Q599.1,1068.6 602.7,1073.3L619.7,1095.0Q623.6,1100.0 628.0,1104.6L633.2,1110.0Q637.7,1114.7 641.7,1119.7L648.8,1128.6Q652.9,1133.7 657.4,1138.5L664.9,1146.5Q666.2,1147.9 668.2,1147.9L675.9,1147.9Q681.4,1147.9 686.8,1146.6L723.1,1137.9Q728.8,1136.5 734.6,1136.2L759.8,1134.9Q766.8,1134.6 773.8,1134.3L799.4,1133.0Q804.8,1132.7 806.8,1133.1L807.5,1133.3Q809.5,1133.7 816.2,1135.3L831.5,1138.8Q838.0,1140.3 844.5,1141.4L861.1,1144.2Q866.5,1145.1 872.0,1144.7L875.7,1144.4Q879.7,1144.1 883.1,1142.0L889.7,1137.8Q894.9,1134.6 899.6,1130.7L909.1,1122.5Q913.9,1118.5 919.1,1115.1L927.6,1109.6Q932.9,1106.1 938.5,1103.2L982.1,1081.1Q988.3,1078.0 994.5,1074.9L1020.4,1062.0Q1026.0,1059.2 1031.3,1055.8L1058.3,1038.2Q1063.7,1034.7 1069.4,1031.8L1091.1,1020.6Q1094.7,1018.7 1097.1,1018.7L1100.5,1018.7"/>
<path fill="none" stroke="#000" stroke-width="1.6" stroke-linejoin="round" d="M238.0,802.9L240.8,802.9Q242.8,802.9 244.8,801.2L273.5,776.4Q277.7,772.8 280.9,768.3L297.0,745.5Q300.3,740.8 302.5,735.6L314.4,707.8L348.0,725.9Q352.6,728.4 357.7,729.4L365.0,730.9Q371.4,732.2 377.2,733.8L384.7,735.9Q385.2,736.0 385.3,736.5L387.4,744.4Q389.0,750.4 390.7,757.1L392.3,763.8Q394.0,770.5 395.8,777.2L397.2,782.7Q399.0,789.3 400.5,795.9L402.4,803.9Q404.0,810.7 405.5,817.5L407.7,826.9Q409.1,833.3 409.5,836.1L409.7,837.2Q410.1,840.0 411.5,846.5L412.5,850.9Q413.9,857.6 415.2,864.3L416.4,871.1Q417.7,877.7 419.2,884.3L421.2,892.7Q422.7,899.0 424.7,905.1L426.9,911.5Q429.0,917.8 431.5,924.0L434.0,930.5Q436.5,936.7 439.3,942.8L441.5,947.5Q444.0,953.0 447.2,957.7L448.4,959.6Q451.6,964.3 455.3,969.5L456.7,971.5Q460.4,976.8 463.5,982.1L464.8,984.1Q467.9,989.4 470.8,995.2L472.3,998.3Q475.4,1004.5 478.5,1010.7L481.8,1017.1Q483.0,1019.5 483.5,1019.7L483.7,1019.8Q484.2,1020.0 484.9,1021.9L488.2,1030.2Q490.5,1036.3 492.3,1042.5L494.9,1051.1Q496.8,1057.7 498.6,1064.3L501.2,1073.8Q503.0,1080.3 505.0,1086.8L507.7,1095.3Q509.3,1100.4 512.2,1104.9L515.1,1109.4Q518.1,1114.2 522.1,1118.2L524.3,1120.4Q528.1,1124.2 532.8,1126.9L539.2,1130.7Q543.2,1133.0 546.1,1136.7L548.3,1139.6Q552.0,1144.3 556.2,1149.0L557.9,1151.0Q562.0,1155.6 565.7,1158.8L567.1,1159.9Q570.8,1163.1 574.7,1165.2L576.1,1166.0Q580.0,1168.1 585.2,1171.7L591.3,1176.0Q595.9,1179.2 599.6,1183.3L607.1,1191.8Q611.1,1196.3 615.8,1200.1L636.6,1217.0Q641.5,1221.0 646.0,1225.5L648.1,1227.6Q652.9,1232.4 657.5,1237.4L664.6,1244.9Q666.2,1246.6 668.6,1246.8L676.4,1247.3Q681.4,1247.6 686.2,1246.3L703.3,1241.8Q709.9,1240.0 716.4,1238.0L733.5,1232.8Q738.3,1231.4 743.3,1231.6L760.1,1232.2Q766.8,1232.4 773.4,1233.0L803.2,1235.6Q809.5,1236.2 815.7,1237.4L831.3,1240.6Q838.0,1241.9 844.7,1243.0L860.8,1245.7Q866.5,1246.6 872.0,1246.4L875.1,1246.3Q879.7,1246.1 883.9,1244.2L886.3,1243.1Q891.1,1240.9 895.9,1237.5L908.5,1228.6Q913.9,1224.8 919.1,1220.7L937.8,1205.7Q942.4,1202.0 947.6,1199.2L965.3,1189.8Q970.9,1186.8 976.2,1183.3L994.0,1171.4Q999.4,1167.8 1004.5,1163.8L1022.8,1149.1Q1027.8,1145.1 1033.2,1141.6L1060.9,1123.6Q1065.8,1120.4 1071.2,1118.2L1090.0,1110.7Q1094.3,1109.0 1096.9,1109.0L1100.5,1109.0"/>
<path fill="none" stroke="#000" stroke-width="1.6" stroke-linejoin="round" d="M238.0,905.7L241.4,905.7Q242.8,905.7 243.7,904.6L258.5,885.6Q262.6,880.3 266.5,874.8L277.8,859.0Q281.4,853.9 284.4,848.4L285.9,845.8Q289.0,840.0 292.5,834.5L312.2,803.9Q313.4,802.0 315.6,801.4L329.2,798.1Q334.2,796.9 339.3,797.2L346.4,797.7Q352.6,798.1 358.7,799.3L363.5,800.2Q368.9,801.2 373.9,803.5L384.0,808.3Q385.2,808.8 385.5,810.1L386.6,815.7Q387.7,820.7 389.2,827.5L390.0,831.6Q391.5,838.3 391.7,839.0L391.7,839.3Q391.9,840.0 393.2,846.6L393.8,849.6Q395.1,856.3 396.3,863.1L397.6,871.0Q398.8,877.7 400.2,884.4L401.3,890.0Q402.6,896.5 404.3,902.9L405.9,908.8Q407.6,915.3 409.6,921.7L412.0,929.3Q413.9,935.4 416.4,941.3L418.8,946.9Q421.4,953.0 424.0,958.2L425.1,960.2Q427.7,965.5 431.1,970.9L433.0,973.8Q436.5,979.4 439.6,985.2L441.0,987.6Q444.0,993.2 446.5,999.1L447.7,1001.9Q450.3,1008.2 452.4,1013.2L453.2,1015.0Q455.3,1020.0 458.2,1026.1L460.1,1030.4Q462.9,1036.3 465.2,1042.4L468.0,1050.0Q470.4,1056.4 472.7,1062.9L475.7,1071.4Q477.9,1077.8 480.4,1084.1L484.3,1094.3Q486.7,1100.4 489.5,1106.4L492.5,1112.9Q495.5,1119.2 498.4,1125.5L500.3,1129.7Q503.0,1135.5 505.0,1141.5L506.0,1144.3Q508.1,1150.6 510.4,1157.1L512.2,1162.0Q514.3,1168.1 517.0,1173.9L519.6,1179.6Q521.9,1184.5 524.5,1187.7L525.5,1188.8Q528.1,1192.0 532.3,1194.4L537.3,1197.3Q543.2,1200.8 549.1,1204.4L552.8,1206.6Q558.3,1210.0 564.1,1212.9L591.9,1226.6Q595.9,1228.6 598.7,1232.0L601.4,1235.2Q605.4,1240.0 609.5,1245.4L620.6,1259.8Q624.4,1264.7 628.8,1269.1L648.5,1288.8Q652.9,1293.2 657.8,1297.0L663.2,1301.2Q666.2,1303.6 670.0,1304.2L685.5,1306.6Q690.9,1307.4 696.3,1306.9L722.1,1304.3Q728.8,1303.6 735.4,1302.6L760.3,1298.9Q766.8,1297.9 773.2,1296.5L805.6,1289.3Q809.5,1288.4 813.4,1289.5L840.9,1297.0Q847.5,1298.8 854.1,1300.7L878.3,1307.9Q879.7,1308.3 880.9,1307.4L898.8,1295.2Q904.4,1291.3 909.9,1287.3L927.5,1274.3Q932.9,1270.4 938.5,1266.8L965.5,1249.2Q970.9,1245.7 975.9,1241.7L984.4,1234.9Q989.9,1230.5 995.4,1226.1L1013.3,1211.7Q1018.3,1207.7 1023.7,1204.1L1041.0,1192.6Q1046.8,1188.7 1052.6,1184.8L1069.8,1173.4Q1075.3,1169.7 1080.6,1165.7L1091.9,1157.3Q1094.3,1155.5 1096.9,1155.5L1100.5,1155.5"/>
<path fill="none" stroke="#000" stroke-width="1.6" stroke-linejoin="round" d="M238.0,971.6L240.8,971.6Q242.8,971.6 248.9,970.8L271.6,967.7Q277.7,966.9 283.7,965.3L296.5,961.8Q302.1,960.3 307.3,957.7L311.9,955.4Q315.3,953.7 317.4,950.5L319.7,947.1Q322.9,942.4 327.0,937.6L330.8,933.1Q334.2,929.2 338.6,926.4L342.8,923.7Q347.3,920.8 352.4,919.2L361.9,916.2Q368.1,914.2 374.5,912.7L386.0,910.0L387.7,919.1Q388.8,925.4 390.5,931.6L391.9,936.3Q393.8,943.0 395.7,949.7L397.0,954.2Q398.8,960.5 401.0,966.7L402.9,971.9Q405.1,978.1 407.7,984.2L410.0,989.6Q412.6,995.7 414.8,1001.9L416.9,1007.6Q418.9,1013.3 419.4,1016.1L419.7,1017.2Q420.2,1020.0 422.3,1025.5L424.1,1030.1Q426.5,1036.3 429.3,1042.3L432.5,1049.4Q435.2,1055.2 438.4,1060.8L442.4,1067.7Q445.3,1072.7 449.1,1077.0L451.9,1080.1Q455.3,1084.0 457.4,1088.7L459.0,1092.2Q461.6,1097.8 463.4,1103.7L464.6,1107.7Q466.6,1114.2 468.4,1120.8L470.0,1126.6Q471.7,1133.0 473.8,1139.3L474.6,1141.8Q476.7,1148.1 479.1,1154.3L480.5,1158.0Q483.0,1164.4 485.3,1170.8L486.9,1175.6Q489.2,1182.0 491.7,1188.4L493.6,1193.5Q495.5,1198.3 498.7,1202.4L502.1,1206.8Q505.8,1211.5 508.6,1216.7L515.8,1230.1Q519.1,1236.2 522.5,1242.2L525.5,1247.6Q527.6,1251.4 531.1,1253.9L543.0,1262.6Q548.5,1266.6 554.1,1270.3L573.8,1283.5Q577.0,1285.6 578.7,1289.0L580.3,1292.2Q582.7,1296.9 584.4,1302.6L586.8,1310.5Q588.4,1315.9 591.2,1320.8L593.0,1324.1Q595.9,1329.2 599.7,1333.7L610.5,1346.7Q614.9,1352.0 619.3,1357.4L629.2,1369.5Q632.0,1372.9 632.7,1375.5L633.7,1379.0"/>
<path fill="none" stroke="#000" stroke-width="1.6" stroke-linejoin="round" d="M909.0,1379.0L910.7,1375.5Q912.0,1372.9 914.9,1371.3L936.9,1358.9Q942.4,1355.8 947.4,1352.1L966.0,1338.5Q970.9,1334.9 975.2,1330.6L979.9,1325.9Q984.2,1321.6 987.7,1316.7L995.3,1306.4Q999.4,1300.7 1003.5,1295.0L1010.7,1285.1Q1014.5,1279.9 1018.7,1275.1L1023.9,1269.1Q1027.8,1264.7 1032.4,1261.0L1041.5,1253.7Q1046.8,1249.5 1052.2,1245.5L1069.9,1232.6Q1075.3,1228.6 1080.6,1224.4L1092.1,1215.2Q1094.3,1213.4 1096.9,1213.4L1100.5,1213.4"/>
<path fill="none" stroke="#000" stroke-width="1.6" stroke-linejoin="round" d="M238.0,1074.2L240.8,1074.2Q242.8,1074.2 247.8,1075.7L262.3,1080.0Q268.2,1081.8 273.8,1084.4L286.5,1090.2Q292.7,1093.1 298.8,1096.1L313.1,1103.3L337.2,1075.7Q341.7,1070.5 346.3,1065.4L356.4,1054.3Q360.5,1049.8 363.9,1044.7L368.1,1038.4Q371.8,1032.8 375.8,1027.4L385.0,1014.9L388.7,1032.5Q390.0,1038.8 391.9,1044.9L394.4,1052.7Q396.3,1058.9 398.8,1064.9L402.8,1074.8Q405.1,1080.3 408.3,1085.4L412.0,1091.4Q415.2,1096.6 417.3,1101.3L418.1,1103.2Q420.2,1107.9 421.5,1113.6L422.4,1117.6Q423.9,1124.2 425.5,1130.0L426.3,1133.0Q427.7,1138.0 430.3,1142.2L431.4,1143.9Q434.0,1148.1 437.7,1152.3L439.1,1153.9Q442.8,1158.1 446.4,1163.3L448.7,1166.6Q451.6,1170.7 453.0,1175.5L453.7,1178.0Q455.3,1183.2 456.9,1189.5L457.6,1192.5Q459.1,1198.3 461.2,1203.2L462.0,1205.1Q464.1,1210.0 467.2,1215.5L470.4,1221.1Q473.5,1226.7 476.1,1232.5L484.3,1251.5Q486.8,1257.1 490.0,1262.3L498.8,1276.5Q502.0,1281.8 504.5,1287.5L507.3,1293.7Q509.6,1298.8 510.7,1304.3L512.3,1312.4Q513.4,1317.8 515.7,1322.8L522.3,1337.1Q524.8,1342.5 527.6,1346.5L528.6,1348.0Q531.4,1352.0 535.3,1357.7L542.9,1369.0Q545.6,1372.9 546.2,1375.5L547.0,1379.0"/>
<path fill="none" stroke="#000" stroke-width="1.6" stroke-linejoin="round" d="M1052.3,1379.0L1053.5,1375.5Q1054.4,1372.9 1057.2,1370.6L1069.9,1360.2Q1075.3,1355.8 1080.7,1351.5L1092.1,1342.4Q1094.3,1340.6 1096.9,1340.6L1100.5,1340.6"/>
<path fill="none" stroke="#000" stroke-width="4.5" stroke-linejoin="round" d="M329.4,299.5L329.4,303.0Q329.4,305.6 329.6,312.4L329.9,318.6Q330.1,325.1 330.9,331.5L332.1,341.3Q332.9,347.7 334.3,354.0L335.2,358.5Q336.7,365.3 337.8,370.0L338.4,372.9Q339.2,376.6 341.8,379.4L346.2,384.3Q350.5,389.1 355.2,393.4L360.1,397.9Q364.3,401.7 366.9,405.4L368.0,406.8Q370.6,410.5 372.7,413.9L373.6,415.4Q375.6,418.6 378.9,420.4L385.1,423.8Q390.7,426.8 394.6,428.4L396.1,429.0Q400.0,430.6 405.2,433.7L407.3,435.0Q412.6,438.1 417.9,441.8L420.6,443.7Q425.1,446.9 428.8,451.1L430.2,452.7Q433.9,456.9 436.9,461.9L438.2,464.2Q441.4,469.5 444.0,474.2L445.1,476.1Q447.7,480.8 449.8,484.7L450.6,486.1Q452.7,490.0 454.8,494.5L455.8,496.4Q457.8,500.7 461.2,504.0L464.4,506.9Q469.1,511.4 474.2,515.5L483.0,522.6Q487.9,526.5 493.2,529.9L501.3,535.0Q506.7,538.4 512.4,541.3L521.5,545.8Q525.5,547.8 529.7,548.1L531.4,548.1Q535.6,548.4 541.1,547.5L544.6,546.9Q550.7,545.9 556.7,544.1L562.9,542.3Q569.5,540.3 576.1,538.5L580.2,537.4Q585.8,535.9 590.0,535.6L591.7,535.5Q595.9,535.2 596.4,535.3L596.7,535.3Q597.2,535.4 601.3,537.8L666.5,575.5Q668.8,576.8 671.4,576.3L778.0,556.3Q783.7,555.2 789.4,555.3L831.6,556.0Q837.7,556.1 843.8,557.0L857.0,559.1Q862.1,559.9 867.2,559.1L876.4,557.8Q881.0,557.1 885.0,554.8L907.6,541.4Q913.0,538.2 917.9,534.4L945.2,513.2Q950.7,509.0 956.2,504.9L983.0,484.8Q988.3,480.8 993.8,477.1L1011.2,465.6Q1016.6,462.0 1021.6,458.0L1039.7,443.5Q1044.8,439.4 1050.2,435.6L1058.9,429.6Q1063.7,426.2 1069.0,423.8L1077.4,420.0Q1082.5,417.7 1087.6,416.7L1089.6,416.3Q1094.7,415.3 1097.1,415.3L1100.5,415.3"/>
<path fill="none" stroke="#000" stroke-width="4.5" stroke-linejoin="round" d="M238.0,482.7L241.4,482.7Q243.8,482.7 247.9,480.9L271.6,470.8Q277.7,468.2 284.0,465.9L305.8,458.0Q310.3,456.3 312.4,456.3L313.6,456.3Q315.3,456.3 316.4,457.6L323.8,466.0Q327.9,470.7 332.6,474.9L336.0,478.0Q340.4,482.0 344.1,484.3L345.5,485.2Q349.2,487.5 355.0,490.6L359.4,493.0Q365.5,496.3 370.8,499.2L372.8,500.3Q378.1,503.2 381.2,505.6L382.5,506.5Q385.6,508.9 387.5,512.6L389.3,516.1Q391.9,521.4 395.0,527.6L397.1,531.9Q399.4,536.5 399.7,538.1L399.7,538.7Q400.0,540.3 402.2,545.3L404.8,551.4Q407.5,557.8 410.1,564.2L413.6,572.7Q416.3,579.2 419.0,585.7L422.4,594.0Q425.1,600.5 427.8,607.0L431.2,615.4Q433.9,621.9 436.6,628.4L440.1,636.8Q442.7,643.2 445.4,649.6L447.5,654.5Q450.2,660.8 452.4,665.8L453.3,667.6Q455.5,672.6 457.1,676.8L457.7,678.4Q459.3,682.6 462.5,686.4L467.5,692.5Q471.8,697.7 476.0,703.1L480.5,709.0Q484.4,714.0 487.7,719.4L491.2,725.1Q494.4,730.3 496.8,735.9L499.2,741.5Q502.0,747.9 504.7,754.3L506.8,759.1Q509.5,765.5 512.1,771.8L513.2,774.2Q515.8,780.5 518.2,786.8L519.6,790.6Q522.0,796.8 524.1,801.5L525.0,803.4Q527.1,808.1 530.2,811.8L531.5,813.2Q534.6,816.9 539.2,821.6L553.6,836.5Q557.7,840.7 562.5,844.1L590.2,863.5Q595.3,867.1 600.0,871.3L609.8,880.0Q614.2,884.0 617.9,888.7L625.3,898.0Q629.2,902.9 633.7,907.3L637.6,911.2Q642.4,916.0 647.0,920.9L668.2,943.7Q668.8,944.3 669.6,944.2L688.5,940.8Q695.1,939.6 701.7,938.1L739.4,929.8Q746.0,928.3 752.7,927.1L796.7,919.0Q802.5,917.9 806.2,917.9L807.6,917.9Q811.3,917.9 816.4,919.4L831.0,923.6Q837.7,925.5 844.4,927.5L860.5,932.3Q865.9,933.9 871.5,934.3L878.2,934.7Q881.0,934.9 883.3,933.3L907.9,915.9Q913.0,912.3 917.6,908.1L927.0,899.6Q931.8,895.3 936.1,890.6L946.9,878.8Q950.7,874.6 955.3,871.4L963.9,865.3Q969.5,861.4 975.2,857.6L992.4,846.1Q997.7,842.6 1003.3,839.6L1019.9,830.7Q1026.0,827.5 1032.1,824.4L1039.0,820.9Q1044.8,818.0 1050.8,815.6L1090.4,799.4Q1094.7,797.7 1097.1,797.7L1100.5,797.7"/>
<path fill="none" stroke="#000" stroke-width="4.5" stroke-linejoin="round" d="M238.0,733.3L241.8,733.3Q242.8,733.3 243.3,732.5L261.0,706.4Q264.5,701.2 268.6,696.4L283.5,679.1Q287.1,674.9 291.6,671.7L312.7,656.8Q314.1,655.8 315.8,656.2L335.0,660.7Q340.4,662.0 345.3,664.5L352.8,668.3Q358.8,671.3 364.9,674.1L370.5,676.6Q375.2,678.8 378.9,682.0L380.9,683.8Q383.9,686.4 385.3,690.1L387.7,696.3Q390.2,702.7 392.5,709.1L394.2,713.9Q396.5,720.3 398.5,726.7L400.7,733.7Q402.8,740.4 404.9,747.1L407.0,753.8Q409.1,760.4 411.2,767.1L413.3,773.9Q415.3,780.5 417.2,787.1L418.6,791.9Q420.4,798.1 421.7,804.4L424.1,816.5Q425.4,823.2 426.6,829.9L427.2,833.6Q428.3,840.0 429.6,845.3L430.2,847.3Q431.5,852.6 432.3,858.8L433.1,864.9Q434.0,871.4 435.3,877.9L436.5,883.9Q437.8,890.2 439.7,896.3L440.9,900.4Q442.8,906.5 445.3,912.3L447.8,918.3Q450.3,924.1 453.4,929.5L457.1,936.0Q460.4,941.7 464.0,947.2L466.7,951.2Q470.4,956.8 474.4,962.3L476.5,965.2Q480.4,970.6 484.6,975.8L486.3,977.9Q490.5,983.1 494.7,988.4L496.5,990.6Q500.5,995.7 503.7,1000.4L505.3,1002.8Q508.1,1007.0 509.5,1011.9L510.2,1014.5Q511.8,1020.0 513.9,1026.3L514.8,1029.0Q516.8,1035.1 518.2,1041.3L520.4,1051.2Q521.9,1057.7 523.1,1064.3L525.9,1080.4Q526.3,1082.8 528.3,1084.3L536.5,1090.8Q540.7,1094.1 545.6,1096.2L552.0,1098.9Q558.3,1101.6 563.5,1103.7L565.5,1104.5Q570.8,1106.6 574.7,1108.7L576.1,1109.6Q580.0,1111.7 585.4,1115.3L591.4,1119.3Q595.9,1122.3 599.5,1126.4L606.6,1134.3Q611.1,1139.4 615.5,1144.6L625.7,1156.9Q630.1,1162.1 634.6,1167.2L640.7,1174.0Q645.3,1179.2 650.0,1184.4L669.0,1205.8L688.3,1198.0Q694.7,1195.4 701.2,1192.9L733.5,1180.2Q738.3,1178.3 743.4,1177.9L746.1,1177.7Q751.6,1177.3 757.0,1178.2L779.1,1181.9Q785.8,1183.0 792.6,1184.0L813.3,1186.9Q820.0,1187.8 823.6,1188.2L824.9,1188.3Q828.5,1188.7 835.4,1189.5L857.1,1191.9Q862.7,1192.5 868.3,1191.9L874.6,1191.2Q879.7,1190.6 884.4,1188.5L889.1,1186.5Q894.9,1184.0 900.4,1180.9L917.7,1171.0Q923.4,1167.8 928.9,1164.2L946.3,1152.6Q951.9,1148.9 957.3,1144.9L974.9,1132.1Q980.4,1128.0 986.0,1124.1L994.5,1118.1Q999.4,1114.7 1004.8,1112.2L1021.6,1104.3Q1027.8,1101.4 1034.1,1098.6L1057.6,1088.2Q1063.7,1085.5 1069.6,1082.5L1091.1,1071.4Q1094.7,1069.5 1097.1,1069.5L1100.5,1069.5"/>
<path fill="none" stroke="#000" stroke-width="4.5" stroke-linejoin="round" d="M238.0,1241.9L240.8,1241.9Q242.8,1241.9 249.1,1242.6L261.7,1244.0Q268.5,1244.7 275.3,1245.3L291.2,1246.7Q297.0,1247.2 302.8,1246.6L308.3,1246.1Q312.1,1245.7 315.2,1243.5L320.0,1240.1Q325.4,1236.2 330.6,1232.0L340.1,1224.5Q344.4,1221.0 347.8,1216.6L353.5,1209.4Q357.7,1203.9 362.0,1198.5L370.3,1188.1Q372.9,1184.9 376.7,1183.2L385.2,1179.2L388.0,1184.7Q390.0,1188.7 391.6,1194.3L396.2,1210.2Q397.6,1215.3 400.4,1219.8L403.6,1224.8Q407.1,1230.5 410.3,1236.3L413.2,1241.5Q416.6,1247.6 419.8,1253.2L421.7,1256.6Q424.2,1260.9 427.9,1264.2L434.6,1270.0Q439.4,1274.2 444.6,1277.9L456.7,1286.4Q458.3,1287.5 458.6,1289.4L460.3,1302.0Q461.2,1308.3 462.7,1314.5L464.3,1320.8Q465.9,1327.3 467.9,1333.7L471.6,1345.9Q473.5,1352.0 475.9,1357.9L480.0,1367.9Q482.1,1372.9 482.5,1375.5L483.0,1379.0"/>
</g>
<rect x="785.1" y="531.8" width="52.0" height="42.7" fill="#fff"/>
<text class="g" x="785.2" y="569.6" font-size="47.5" stroke="#000" stroke-width="0.9" stroke-linejoin="round">20</text>
<rect x="641.6" y="916.8" width="52.5" height="43.0" fill="#fff"/>
<text class="g" x="642.3" y="954.4" font-size="47.5" stroke="#000" stroke-width="0.9" stroke-linejoin="round">15</text>
<rect x="641.3" y="1180.1" width="52.8" height="43.2" fill="#fff"/>
<text class="g" x="642.5" y="1218.7" font-size="47.5" stroke="#000" stroke-width="0.9" stroke-linejoin="round">10</text>
<line x1="242.7" y1="304.0" x2="242.7" y2="1374.6" stroke="#000" stroke-width="3"/>
<line x1="241.2" y1="305.5" x2="1095.5" y2="305.5" stroke="#000" stroke-width="3"/>
<line x1="1094.5" y1="305.5" x2="1094.5" y2="1374.6" stroke="#000" stroke-width="2"/>
<line x1="241.2" y1="1373.0" x2="1095.5" y2="1373.0" stroke="#000" stroke-width="3.6"/>
<line x1="228" y1="305.6" x2="244.0" y2="305.6" stroke="#000" stroke-width="3"/>
<text class="g" x="216" y="324.6" font-size="49" text-anchor="end" stroke="#000" stroke-width="0.5">0</text>
<line x1="228" y1="446.2" x2="244.0" y2="446.2" stroke="#000" stroke-width="3"/>
<text class="g" x="216" y="465.2" font-size="49" text-anchor="end" stroke="#000" stroke-width="0.5">100</text>
<line x1="228" y1="586.8" x2="244.0" y2="586.8" stroke="#000" stroke-width="3"/>
<text class="g" x="216" y="605.8" font-size="49" text-anchor="end" stroke="#000" stroke-width="0.5">200</text>
<line x1="228" y1="727.4" x2="244.0" y2="727.4" stroke="#000" stroke-width="3"/>
<text class="g" x="216" y="746.4" font-size="49" text-anchor="end" stroke="#000" stroke-width="0.5">300</text>
<line x1="228" y1="868.0" x2="244.0" y2="868.0" stroke="#000" stroke-width="3"/>
<text class="g" x="216" y="887.0" font-size="49" text-anchor="end" stroke="#000" stroke-width="0.5">400</text>
<line x1="228" y1="1008.6" x2="244.0" y2="1008.6" stroke="#000" stroke-width="3"/>
<text class="g" x="216" y="1027.6" font-size="49" text-anchor="end" stroke="#000" stroke-width="0.5">500</text>
<line x1="228" y1="1149.2" x2="244.0" y2="1149.2" stroke="#000" stroke-width="3"/>
<text class="g" x="216" y="1168.2" font-size="49" text-anchor="end" stroke="#000" stroke-width="0.5">600</text>
<line x1="228" y1="1289.8" x2="244.0" y2="1289.8" stroke="#000" stroke-width="3"/>
<text class="g" x="216" y="1308.8" font-size="49" text-anchor="end" stroke="#000" stroke-width="0.5">700</text>
<text class="g" x="75" y="324" font-size="54" textLength="99" lengthAdjust="spacingAndGlyphs">(m)</text>
<line x1="244.0" y1="285.5" x2="244.0" y2="305" stroke="#777" stroke-width="1.5"/>
<line x1="314.9" y1="285.5" x2="314.9" y2="305" stroke="#777" stroke-width="1.5"/>
<line x1="385.7" y1="285.5" x2="385.7" y2="305" stroke="#777" stroke-width="1.5"/>
<line x1="456.5" y1="285.5" x2="456.5" y2="305" stroke="#777" stroke-width="1.5"/>
<line x1="527.4" y1="285.5" x2="527.4" y2="305" stroke="#777" stroke-width="1.5"/>
<line x1="598.2" y1="285.5" x2="598.2" y2="305" stroke="#777" stroke-width="1.5"/>
<line x1="669.1" y1="285.5" x2="669.1" y2="305" stroke="#777" stroke-width="1.5"/>
<line x1="739.9" y1="285.5" x2="739.9" y2="305" stroke="#777" stroke-width="1.5"/>
<line x1="810.8" y1="285.5" x2="810.8" y2="305" stroke="#777" stroke-width="1.5"/>
<line x1="881.6" y1="285.5" x2="881.6" y2="305" stroke="#777" stroke-width="1.5"/>
<line x1="1094.2" y1="285.5" x2="1094.2" y2="305" stroke="#777" stroke-width="1.5"/>
<line x1="314.8" y1="1373.0" x2="314.8" y2="1376.0" stroke="#000" stroke-width="2.2"/>
<line x1="385.7" y1="1373.0" x2="385.7" y2="1376.0" stroke="#000" stroke-width="2.2"/>
<line x1="527.3" y1="1373.0" x2="527.3" y2="1376.0" stroke="#000" stroke-width="2.2"/>
<line x1="598.1" y1="1373.0" x2="598.1" y2="1376.0" stroke="#000" stroke-width="2.2"/>
<line x1="739.8" y1="1373.0" x2="739.8" y2="1376.0" stroke="#000" stroke-width="2.2"/>
<line x1="810.7" y1="1373.0" x2="810.7" y2="1376.0" stroke="#000" stroke-width="2.2"/>
<line x1="244" y1="248.3" x2="1095" y2="248.3" stroke="#333" stroke-width="1.4"/>
<line x1="244.0" y1="248" x2="244.0" y2="267" stroke="#333" stroke-width="1.4"/>
<text class="g" transform="translate(243.0,241) scale(1.15,1)" font-size="52" text-anchor="middle" stroke="#fff" stroke-width="1.1">34N</text>
<line x1="456.5" y1="248" x2="456.5" y2="267" stroke="#333" stroke-width="1.4"/>
<text class="g" transform="translate(455.5,241) scale(1.15,1)" font-size="52" text-anchor="middle" stroke="#fff" stroke-width="1.1">33</text>
<line x1="669.1" y1="248" x2="669.1" y2="267" stroke="#333" stroke-width="1.4"/>
<text class="g" transform="translate(668.1,241) scale(1.15,1)" font-size="52" text-anchor="middle" stroke="#fff" stroke-width="1.1">32</text>
<line x1="881.6" y1="248" x2="881.6" y2="267" stroke="#333" stroke-width="1.4"/>
<text class="g" transform="translate(880.6,241) scale(1.15,1)" font-size="52" text-anchor="middle" stroke="#fff" stroke-width="1.1">31</text>
<line x1="1094.2" y1="248" x2="1094.2" y2="267" stroke="#333" stroke-width="1.4"/>
<text class="g" transform="translate(1095.7,241) scale(1.15,1)" font-size="52" text-anchor="middle" stroke="#fff" stroke-width="1.1">30N</text>
<polygon points="1183.1,356.9 1202.6999999999998,285 1222.3,356.9" fill="#FC5A32" stroke="#000" stroke-width="3.6" stroke-linejoin="round"/>
<rect x="1183.1" y="356.9" width="39.200000000000045" height="69.2" fill="#FF8250" stroke="#000" stroke-width="3.6"/>
<rect x="1183.1" y="426.1" width="39.200000000000045" height="69.2" fill="#FAB450" stroke="#000" stroke-width="3.6"/>
<rect x="1183.1" y="495.3" width="39.200000000000045" height="69.2" fill="#FFE16E" stroke="#000" stroke-width="3.6"/>
<rect x="1183.1" y="564.5" width="39.200000000000045" height="69.2" fill="#FFFC8C" stroke="#000" stroke-width="3.6"/>
<rect x="1183.1" y="633.7" width="39.200000000000045" height="69.2" fill="#D7F87D" stroke="#000" stroke-width="3.6"/>
<rect x="1183.1" y="702.9" width="39.200000000000045" height="69.2" fill="#BEFC6E" stroke="#000" stroke-width="3.6"/>
<rect x="1183.1" y="772.1" width="39.200000000000045" height="69.2" fill="#5AFC78" stroke="#000" stroke-width="3.6"/>
<rect x="1183.1" y="841.3" width="39.200000000000045" height="69.2" fill="#23FCA0" stroke="#000" stroke-width="3.6"/>
<rect x="1183.1" y="910.5" width="39.200000000000045" height="69.2" fill="#00FFFA" stroke="#000" stroke-width="3.6"/>
<rect x="1183.1" y="979.7" width="39.200000000000045" height="69.2" fill="#00DCFC" stroke="#000" stroke-width="3.6"/>
<rect x="1183.1" y="1048.9" width="39.200000000000045" height="69.2" fill="#00B9FF" stroke="#000" stroke-width="3.6"/>
<rect x="1183.1" y="1118.1" width="39.200000000000045" height="69.2" fill="#0078FF" stroke="#000" stroke-width="3.6"/>
<rect x="1183.1" y="1187.3" width="39.200000000000045" height="69.2" fill="#0000FF" stroke="#000" stroke-width="3.6"/>
<rect x="1183.1" y="1256.5" width="39.200000000000045" height="69.2" fill="#0000DC" stroke="#000" stroke-width="3.6"/>
<polygon points="1183.1,1325.7 1202.6999999999998,1393.7 1222.3,1325.7" fill="#00008B" stroke="#000" stroke-width="3.6" stroke-linejoin="round"/>
<text class="g" transform="translate(1234.3,374.2) scale(1.05,1)" font-size="50" stroke="#000" stroke-width="0.45">30</text>
<text class="g" transform="translate(1234.3,443.4) scale(1.05,1)" font-size="50" stroke="#000" stroke-width="0.45">28</text>
<text class="g" transform="translate(1234.3,512.6) scale(1.05,1)" font-size="50" stroke="#000" stroke-width="0.45">25</text>
<text class="g" transform="translate(1234.3,581.8) scale(1.05,1)" font-size="50" stroke="#000" stroke-width="0.45">20</text>
<text class="g" transform="translate(1234.3,651.0) scale(1.05,1)" font-size="50" stroke="#000" stroke-width="0.45">15</text>
<text class="g" transform="translate(1234.3,720.2) scale(1.05,1)" font-size="50" stroke="#000" stroke-width="0.45">12</text>
<text class="g" transform="translate(1234.3,789.4) scale(1.05,1)" font-size="50" stroke="#000" stroke-width="0.45">10</text>
<text class="g" transform="translate(1234.3,858.6) scale(1.05,1)" font-size="50" stroke="#000" stroke-width="0.45">9</text>
<text class="g" transform="translate(1234.3,927.8) scale(1.05,1)" font-size="50" stroke="#000" stroke-width="0.45">8</text>
<text class="g" transform="translate(1234.3,997.0) scale(1.05,1)" font-size="50" stroke="#000" stroke-width="0.45">7</text>
<text class="g" transform="translate(1234.3,1066.2) scale(1.05,1)" font-size="50" stroke="#000" stroke-width="0.45">6</text>
<text class="g" transform="translate(1234.3,1135.4) scale(1.05,1)" font-size="50" stroke="#000" stroke-width="0.45">5</text>
<text class="g" transform="translate(1234.3,1204.6) scale(1.05,1)" font-size="50" stroke="#000" stroke-width="0.45">4</text>
<text class="g" transform="translate(1234.3,1273.8) scale(1.05,1)" font-size="50" stroke="#000" stroke-width="0.45">3</text>
<text class="g" transform="translate(1234.3,1343.0) scale(1.05,1)" font-size="50" stroke="#000" stroke-width="0.45">2</text>
<text class="j" x="664.5" y="90" font-size="72" text-anchor="middle">緯度</text>
<text class="j" x="1181" y="275" font-size="72">水温<tspan dx="3" font-weight="300">（</tspan><tspan dx="1">℃</tspan><tspan dx="5" font-weight="300">）</tspan></text>
<text class="j" transform="translate(91,1037) rotate(-90)" font-size="72">深さ<tspan dx="2" font-weight="300">（</tspan>m<tspan dx="6" font-weight="300">）</tspan></text>
<text class="b" transform="translate(239.3,201.3) scale(0.78,1)" font-size="101" text-anchor="middle" stroke="#fff" stroke-width="1.6">A</text>
<text class="b" transform="translate(427.5,201.3) scale(0.9,1)" font-size="101" text-anchor="middle" stroke="#fff" stroke-width="1.6">B</text>
<text class="b" transform="translate(1049.5,197) scale(0.86,1)" font-size="98" text-anchor="middle" stroke="#fff" stroke-width="1.6">C</text>
<text class="s" x="246" y="1433" font-size="50.3" textLength="834" lengthAdjust="spacing">Temperature, December 2025</text>
<text class="s" x="244" y="1490.7" font-size="42.6" textLength="733" lengthAdjust="spacingAndGlyphs" word-spacing="14" stroke="#000" stroke-width="1.2">(C) Japan Meteorological Agency</text>
</svg></body></html>
